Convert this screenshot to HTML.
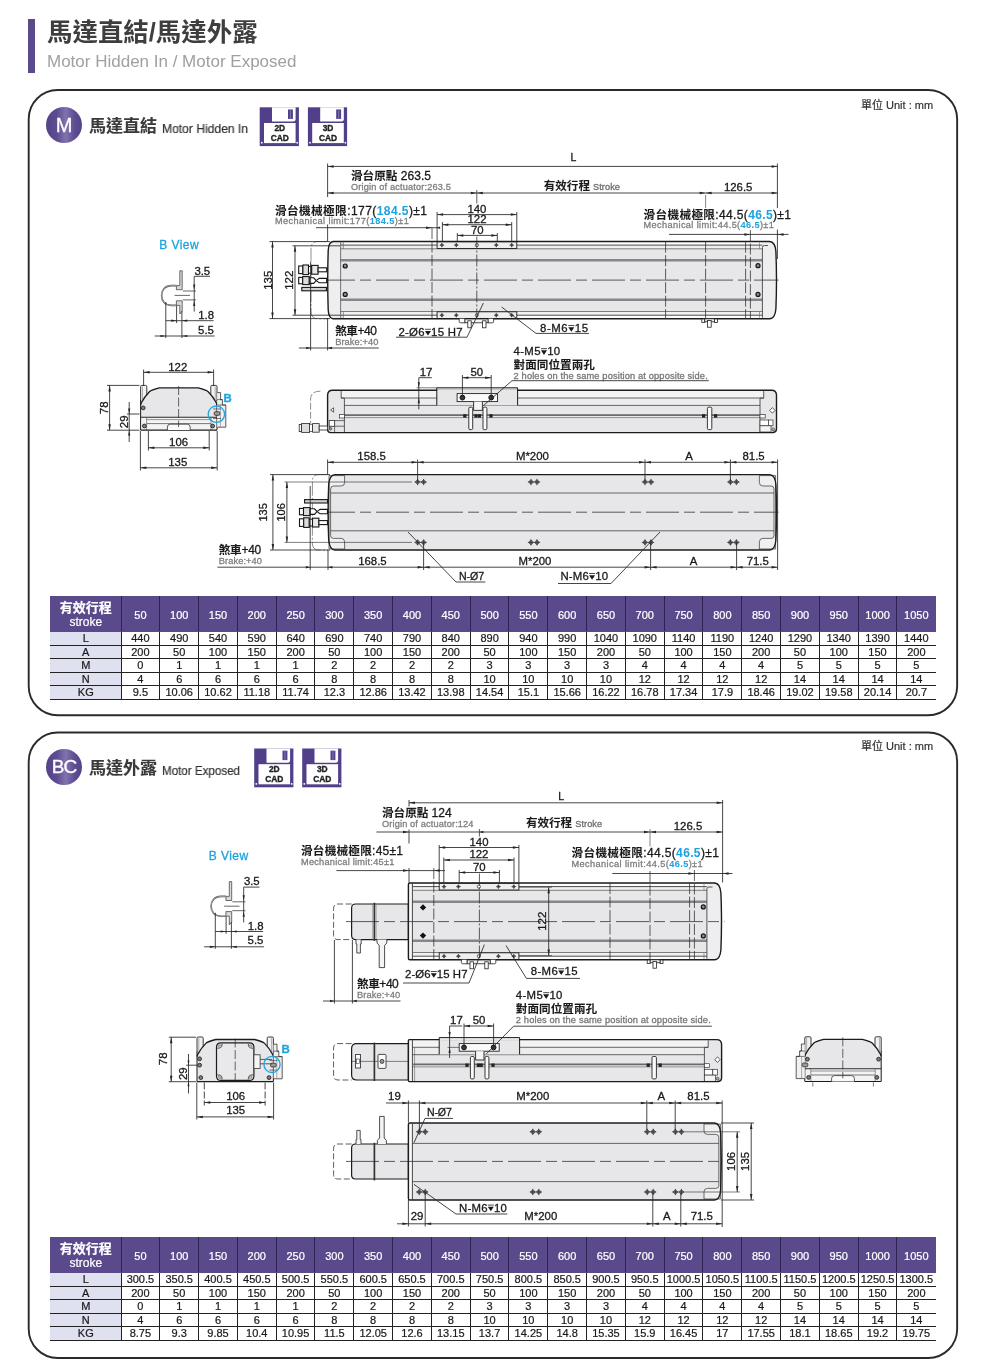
<!DOCTYPE html><html lang="zh-Hant"><head><meta charset="utf-8"><title>馬達直結/馬達外露</title><style>
*{margin:0;padding:0;box-sizing:border-box}
html,body{width:1000px;height:1371px;background:#fff;overflow:hidden}
body{position:relative;font-family:"Liberation Sans","Noto Sans CJK TC",sans-serif;color:#222}
.abs{position:absolute;white-space:nowrap;will-change:transform}
.bar{left:28px;top:19px;width:6.5px;height:54px;background:#5a4a8c}
.title{left:46.5px;top:13.6px;font-size:25.4px;font-weight:bold;color:#3e3e3e;line-height:36px;letter-spacing:0.05px}
.sub{left:46.5px;top:50.7px;font-size:17px;color:#a0a0a2;line-height:22px}
.panel{left:27.8px;width:930.4px;height:627.3px;border:1.9px solid #2c2c2c;border-radius:30px}
.circ{-webkit-text-stroke:0.3px #fff;width:36px;height:36px;border-radius:50%;background:linear-gradient(90deg,#54438a 0%,#5d4c90 30%,#8272ae 55%,#5d4c90 80%,#54438a 100%);color:#fff;text-align:center;line-height:36px;font-size:20px}
.ptc{-webkit-text-stroke:0.12px currentColor;font-size:17px;font-weight:bold;color:#3a3a3a;line-height:24px}
.pte{-webkit-text-stroke:0.2px currentColor;font-size:12.5px;color:#303030;line-height:18px;transform-origin:0 50%}
.unit{-webkit-text-stroke:0.2px currentColor;font-size:11px;color:#333;line-height:14px}
table.t{will-change:transform;position:absolute;border-collapse:collapse;table-layout:fixed;font-size:11px;color:#1a1a1a}
table.t td{-webkit-text-stroke:0.22px currentColor;border:1px solid #222;text-align:center;padding:0;height:13.5px;line-height:12px;white-space:nowrap;overflow:hidden}
table.t tr.h td{background:#5a4a8c;color:#fff;height:35px;border-color:#2b2350;border-top-color:#5a4a8c;border-bottom-color:#5a4a8c;font-size:11px;padding-top:1.5px}
table.t tr.h td.f{font-size:12px;line-height:14.5px;padding-top:2.5px;border-left-color:#5a4a8c}
table.t tr.h td.f b{font-size:13px;font-family:"Liberation Sans","Noto Sans CJK TC",sans-serif}
table.t td.l{background:#dfe1f1;border-left-color:#dfe1f1}
table.t td:last-child{border-right-color:transparent}
table.t tr.h td:last-child{border-right-color:#5a4a8c}
table.t tr:last-child td{border-bottom:1.4px solid #222}
svg{position:absolute;left:0;top:0;will-change:transform}
svg text{font-family:"Liberation Sans","Noto Sans CJK TC",sans-serif}
</style></head><body>
<div class="abs bar"></div>
<div class="abs title">馬達直結/馬達外露</div>
<div class="abs sub">Motor Hidden In / Motor Exposed</div>
<div class="abs circ" style="left:45.6px;top:107.4px">M</div>
<div class="abs ptc" style="left:88.5px;top:115.3px">馬達直結</div>
<div class="abs pte" style="left:162.2px;top:120.2px;transform:scaleX(0.967)">Motor Hidden In</div>
<div class="abs unit" style="left:860.5px;top:97.9px">單位 Unit : mm</div>
<div class="abs circ" style="left:45.6px;top:748.9px;font-size:19px;letter-spacing:-1px">BC</div>
<div class="abs ptc" style="left:88.5px;top:756.8px">馬達外露</div>
<div class="abs pte" style="left:162.2px;top:761.7px;transform:scaleX(0.928)">Motor Exposed</div>
<div class="abs unit" style="left:860.5px;top:739.4px">單位 Unit : mm</div>
<table class="t" style="left:50px;top:596px;width:885.5px"><colgroup><col style="width:70.5px"><col style="width:38.8px"><col style="width:38.8px"><col style="width:38.8px"><col style="width:38.8px"><col style="width:38.8px"><col style="width:38.8px"><col style="width:38.8px"><col style="width:38.8px"><col style="width:38.8px"><col style="width:38.8px"><col style="width:38.8px"><col style="width:38.8px"><col style="width:38.8px"><col style="width:38.8px"><col style="width:38.8px"><col style="width:38.8px"><col style="width:38.8px"><col style="width:38.8px"><col style="width:38.8px"><col style="width:38.8px"><col style="width:38.8px"></colgroup><tr class="h"><td class="f"><b>有效行程</b><br>stroke</td><td>50</td><td>100</td><td>150</td><td>200</td><td>250</td><td>300</td><td>350</td><td>400</td><td>450</td><td>500</td><td>550</td><td>600</td><td>650</td><td>700</td><td>750</td><td>800</td><td>850</td><td>900</td><td>950</td><td>1000</td><td>1050</td></tr><tr><td class="l">L</td><td>440</td><td>490</td><td>540</td><td>590</td><td>640</td><td>690</td><td>740</td><td>790</td><td>840</td><td>890</td><td>940</td><td>990</td><td>1040</td><td>1090</td><td>1140</td><td>1190</td><td>1240</td><td>1290</td><td>1340</td><td>1390</td><td>1440</td></tr><tr><td class="l">A</td><td>200</td><td>50</td><td>100</td><td>150</td><td>200</td><td>50</td><td>100</td><td>150</td><td>200</td><td>50</td><td>100</td><td>150</td><td>200</td><td>50</td><td>100</td><td>150</td><td>200</td><td>50</td><td>100</td><td>150</td><td>200</td></tr><tr><td class="l">M</td><td>0</td><td>1</td><td>1</td><td>1</td><td>1</td><td>2</td><td>2</td><td>2</td><td>2</td><td>3</td><td>3</td><td>3</td><td>3</td><td>4</td><td>4</td><td>4</td><td>4</td><td>5</td><td>5</td><td>5</td><td>5</td></tr><tr><td class="l">N</td><td>4</td><td>6</td><td>6</td><td>6</td><td>6</td><td>8</td><td>8</td><td>8</td><td>8</td><td>10</td><td>10</td><td>10</td><td>10</td><td>12</td><td>12</td><td>12</td><td>12</td><td>14</td><td>14</td><td>14</td><td>14</td></tr><tr><td class="l">KG</td><td>9.5</td><td>10.06</td><td>10.62</td><td>11.18</td><td>11.74</td><td>12.3</td><td>12.86</td><td>13.42</td><td>13.98</td><td>14.54</td><td>15.1</td><td>15.66</td><td>16.22</td><td>16.78</td><td>17.34</td><td>17.9</td><td>18.46</td><td>19.02</td><td>19.58</td><td>20.14</td><td>20.7</td></tr></table>
<table class="t" style="left:50px;top:1237px;width:885.5px"><colgroup><col style="width:70.5px"><col style="width:38.8px"><col style="width:38.8px"><col style="width:38.8px"><col style="width:38.8px"><col style="width:38.8px"><col style="width:38.8px"><col style="width:38.8px"><col style="width:38.8px"><col style="width:38.8px"><col style="width:38.8px"><col style="width:38.8px"><col style="width:38.8px"><col style="width:38.8px"><col style="width:38.8px"><col style="width:38.8px"><col style="width:38.8px"><col style="width:38.8px"><col style="width:38.8px"><col style="width:38.8px"><col style="width:38.8px"><col style="width:38.8px"></colgroup><tr class="h"><td class="f"><b>有效行程</b><br>stroke</td><td>50</td><td>100</td><td>150</td><td>200</td><td>250</td><td>300</td><td>350</td><td>400</td><td>450</td><td>500</td><td>550</td><td>600</td><td>650</td><td>700</td><td>750</td><td>800</td><td>850</td><td>900</td><td>950</td><td>1000</td><td>1050</td></tr><tr><td class="l">L</td><td>300.5</td><td>350.5</td><td>400.5</td><td>450.5</td><td>500.5</td><td>550.5</td><td>600.5</td><td>650.5</td><td>700.5</td><td>750.5</td><td>800.5</td><td>850.5</td><td>900.5</td><td>950.5</td><td>1000.5</td><td>1050.5</td><td>1100.5</td><td>1150.5</td><td>1200.5</td><td>1250.5</td><td>1300.5</td></tr><tr><td class="l">A</td><td>200</td><td>50</td><td>100</td><td>150</td><td>200</td><td>50</td><td>100</td><td>150</td><td>200</td><td>50</td><td>100</td><td>150</td><td>200</td><td>50</td><td>100</td><td>150</td><td>200</td><td>50</td><td>100</td><td>150</td><td>200</td></tr><tr><td class="l">M</td><td>0</td><td>1</td><td>1</td><td>1</td><td>1</td><td>2</td><td>2</td><td>2</td><td>2</td><td>3</td><td>3</td><td>3</td><td>3</td><td>4</td><td>4</td><td>4</td><td>4</td><td>5</td><td>5</td><td>5</td><td>5</td></tr><tr><td class="l">N</td><td>4</td><td>6</td><td>6</td><td>6</td><td>6</td><td>8</td><td>8</td><td>8</td><td>8</td><td>10</td><td>10</td><td>10</td><td>10</td><td>12</td><td>12</td><td>12</td><td>12</td><td>14</td><td>14</td><td>14</td><td>14</td></tr><tr><td class="l">KG</td><td>8.75</td><td>9.3</td><td>9.85</td><td>10.4</td><td>10.95</td><td>11.5</td><td>12.05</td><td>12.6</td><td>13.15</td><td>13.7</td><td>14.25</td><td>14.8</td><td>15.35</td><td>15.9</td><td>16.45</td><td>17</td><td>17.55</td><td>18.1</td><td>18.65</td><td>19.2</td><td>19.75</td></tr></table>
<svg width="1000" height="1371" viewBox="0 0 1000 1371">
<rect x="28.7" y="90.05" width="928.45" height="625.2" rx="29" fill="none" stroke="#2a2a2a" stroke-width="1.9"/>
<rect x="28.7" y="732.5" width="928.45" height="625.5" rx="29" fill="none" stroke="#2a2a2a" stroke-width="1.9"/>
<g transform="translate(259.7,107.3)"><rect x="0" y="0" width="39.2" height="38.8" fill="#513f8a"/><path d="M12.3 0 H35.9 V12 Q35.9 14.3 33.6 14.3 H12.3 Z" fill="#fff"/><rect x="28.3" y="2.2" width="4.9" height="9.4" fill="#513f8a"/><rect x="30.1" y="2.2" width="1.3" height="9.4" fill="#7a6bb0"/><rect x="4.3" y="15.7" width="31.6" height="20.1" fill="#fff"/><rect x="1.3" y="34.6" width="1.6" height="1.6" fill="#fff"/><rect x="36.7" y="34.6" width="1.6" height="1.6" fill="#fff"/><text x="20.1" y="23.8" font-size="8.4" font-weight="bold" text-anchor="middle" fill="#222" stroke="#222" stroke-width="0.35">2D</text><text x="20.1" y="33.8" font-size="8.4" font-weight="bold" text-anchor="middle" fill="#222" stroke="#222" stroke-width="0.35">CAD</text></g>
<g transform="translate(307.9,107.3)"><rect x="0" y="0" width="39.2" height="38.8" fill="#513f8a"/><path d="M12.3 0 H35.9 V12 Q35.9 14.3 33.6 14.3 H12.3 Z" fill="#fff"/><rect x="28.3" y="2.2" width="4.9" height="9.4" fill="#513f8a"/><rect x="30.1" y="2.2" width="1.3" height="9.4" fill="#7a6bb0"/><rect x="4.3" y="15.7" width="31.6" height="20.1" fill="#fff"/><rect x="1.3" y="34.6" width="1.6" height="1.6" fill="#fff"/><rect x="36.7" y="34.6" width="1.6" height="1.6" fill="#fff"/><text x="20.1" y="23.8" font-size="8.4" font-weight="bold" text-anchor="middle" fill="#222" stroke="#222" stroke-width="0.35">3D</text><text x="20.1" y="33.8" font-size="8.4" font-weight="bold" text-anchor="middle" fill="#222" stroke="#222" stroke-width="0.35">CAD</text></g>
<g transform="translate(254.2,748.5)"><rect x="0" y="0" width="39.2" height="38.8" fill="#513f8a"/><path d="M12.3 0 H35.9 V12 Q35.9 14.3 33.6 14.3 H12.3 Z" fill="#fff"/><rect x="28.3" y="2.2" width="4.9" height="9.4" fill="#513f8a"/><rect x="30.1" y="2.2" width="1.3" height="9.4" fill="#7a6bb0"/><rect x="4.3" y="15.7" width="31.6" height="20.1" fill="#fff"/><rect x="1.3" y="34.6" width="1.6" height="1.6" fill="#fff"/><rect x="36.7" y="34.6" width="1.6" height="1.6" fill="#fff"/><text x="20.1" y="23.8" font-size="8.4" font-weight="bold" text-anchor="middle" fill="#222" stroke="#222" stroke-width="0.35">2D</text><text x="20.1" y="33.8" font-size="8.4" font-weight="bold" text-anchor="middle" fill="#222" stroke="#222" stroke-width="0.35">CAD</text></g>
<g transform="translate(302.2,748.5)"><rect x="0" y="0" width="39.2" height="38.8" fill="#513f8a"/><path d="M12.3 0 H35.9 V12 Q35.9 14.3 33.6 14.3 H12.3 Z" fill="#fff"/><rect x="28.3" y="2.2" width="4.9" height="9.4" fill="#513f8a"/><rect x="30.1" y="2.2" width="1.3" height="9.4" fill="#7a6bb0"/><rect x="4.3" y="15.7" width="31.6" height="20.1" fill="#fff"/><rect x="1.3" y="34.6" width="1.6" height="1.6" fill="#fff"/><rect x="36.7" y="34.6" width="1.6" height="1.6" fill="#fff"/><text x="20.1" y="23.8" font-size="8.4" font-weight="bold" text-anchor="middle" fill="#222" stroke="#222" stroke-width="0.35">3D</text><text x="20.1" y="33.8" font-size="8.4" font-weight="bold" text-anchor="middle" fill="#222" stroke="#222" stroke-width="0.35">CAD</text></g>
<path d="M327.6 241.5 H318 Q311 241.5 311 249 V311 Q311 318.8 318 318.8 H327.6" fill="none" stroke="#444" stroke-width="0.6" stroke-dasharray="14 2 2 2"/>
<path d="M333.1 241.5 H769.6 Q775.2 241.9 775.9 251.5 Q777.1 280.1 775.9 308.8 Q775.2 318.40000000000003 769.6 318.8 H333.1 Q328.6 318.3 328.20000000000005 309.8 Q327.20000000000005 280.1 328.20000000000005 250.5 Q328.6 242.0 333.1 241.5 Z" fill="#e7e7e9"/>
<clipPath id="c1"><rect x="762.4" y="239.5" width="17.200000000000045" height="81.30000000000001"/><rect x="324.6" y="239.5" width="16.0" height="81.30000000000001"/></clipPath>
<path d="M333.1 241.5 H769.6 Q775.2 241.9 775.9 251.5 Q777.1 280.1 775.9 308.8 Q775.2 318.40000000000003 769.6 318.8 H333.1 Q328.6 318.3 328.20000000000005 309.8 Q327.20000000000005 280.1 328.20000000000005 250.5 Q328.6 242.0 333.1 241.5 Z" fill="#eeeef0" clip-path="url(#c1)"/>
<rect x="343.40" y="242.10" width="419.00" height="3.00" fill="#fdfdfd"/>
<rect x="343.40" y="315.20" width="419.00" height="3.00" fill="#fdfdfd"/>
<rect x="343.40" y="245.30" width="419.00" height="3.40" fill="#f1f1f2"/>
<rect x="343.40" y="311.60" width="419.00" height="3.40" fill="#f1f1f2"/>
<line x1="340.60" y1="245.10" x2="762.40" y2="245.10" stroke="#3a3a3a" stroke-width="0.9"/>
<line x1="340.60" y1="248.80" x2="762.40" y2="248.80" stroke="#707072" stroke-width="0.9"/>
<line x1="340.60" y1="315.20" x2="762.40" y2="315.20" stroke="#3a3a3a" stroke-width="0.9"/>
<line x1="340.60" y1="311.50" x2="762.40" y2="311.50" stroke="#707072" stroke-width="0.9"/>
<line x1="340.60" y1="260.30" x2="762.40" y2="260.30" stroke="#858688" stroke-width="2.6"/>
<line x1="340.60" y1="299.80" x2="762.40" y2="299.80" stroke="#858688" stroke-width="2.6"/>
<line x1="340.60" y1="242.50" x2="340.60" y2="317.80" stroke="#555" stroke-width="0.8"/>
<line x1="343.40" y1="242.50" x2="343.40" y2="248.80" stroke="#666" stroke-width="0.6"/>
<line x1="343.40" y1="311.50" x2="343.40" y2="317.80" stroke="#666" stroke-width="0.6"/>
<path d="M762.4 317.8 V247.5 Q762.4 245.5 764.4 245.5 H768.0" fill="none" stroke="#444" stroke-width="0.9"/>
<line x1="759.50" y1="242.50" x2="759.50" y2="248.80" stroke="#666" stroke-width="0.6"/>
<line x1="759.50" y1="311.50" x2="759.50" y2="317.80" stroke="#666" stroke-width="0.6"/>
<rect x="437.10" y="241.70" width="79.70" height="6.80" fill="#efeff0" stroke="#1c1c1c" stroke-width="0.9"/>
<rect x="437.10" y="311.80" width="79.70" height="6.80" fill="#efeff0" stroke="#1c1c1c" stroke-width="0.9"/>
<path d="M440.20 245.10 L441.90 243.40 L443.60 245.10 L441.90 246.80 Z" fill="#6e6e70" stroke="#333" stroke-width="0.5"/>
<line x1="439.60" y1="245.10" x2="444.20" y2="245.10" stroke="#222" stroke-width="0.5"/>
<line x1="441.90" y1="242.80" x2="441.90" y2="247.40" stroke="#222" stroke-width="0.5"/>
<path d="M440.20 315.20 L441.90 313.50 L443.60 315.20 L441.90 316.90 Z" fill="#6e6e70" stroke="#333" stroke-width="0.5"/>
<line x1="439.60" y1="315.20" x2="444.20" y2="315.20" stroke="#222" stroke-width="0.5"/>
<line x1="441.90" y1="312.90" x2="441.90" y2="317.50" stroke="#222" stroke-width="0.5"/>
<path d="M454.60 245.10 L456.30 243.40 L458.00 245.10 L456.30 246.80 Z" fill="#6e6e70" stroke="#333" stroke-width="0.5"/>
<line x1="454.00" y1="245.10" x2="458.60" y2="245.10" stroke="#222" stroke-width="0.5"/>
<line x1="456.30" y1="242.80" x2="456.30" y2="247.40" stroke="#222" stroke-width="0.5"/>
<path d="M454.60 315.20 L456.30 313.50 L458.00 315.20 L456.30 316.90 Z" fill="#6e6e70" stroke="#333" stroke-width="0.5"/>
<line x1="454.00" y1="315.20" x2="458.60" y2="315.20" stroke="#222" stroke-width="0.5"/>
<line x1="456.30" y1="312.90" x2="456.30" y2="317.50" stroke="#222" stroke-width="0.5"/>
<path d="M494.60 245.10 L496.30 243.40 L498.00 245.10 L496.30 246.80 Z" fill="#6e6e70" stroke="#333" stroke-width="0.5"/>
<line x1="494.00" y1="245.10" x2="498.60" y2="245.10" stroke="#222" stroke-width="0.5"/>
<line x1="496.30" y1="242.80" x2="496.30" y2="247.40" stroke="#222" stroke-width="0.5"/>
<path d="M494.60 315.20 L496.30 313.50 L498.00 315.20 L496.30 316.90 Z" fill="#6e6e70" stroke="#333" stroke-width="0.5"/>
<line x1="494.00" y1="315.20" x2="498.60" y2="315.20" stroke="#222" stroke-width="0.5"/>
<line x1="496.30" y1="312.90" x2="496.30" y2="317.50" stroke="#222" stroke-width="0.5"/>
<path d="M510.00 245.10 L511.70 243.40 L513.40 245.10 L511.70 246.80 Z" fill="#6e6e70" stroke="#333" stroke-width="0.5"/>
<line x1="509.40" y1="245.10" x2="514.00" y2="245.10" stroke="#222" stroke-width="0.5"/>
<line x1="511.70" y1="242.80" x2="511.70" y2="247.40" stroke="#222" stroke-width="0.5"/>
<path d="M510.00 315.20 L511.70 313.50 L513.40 315.20 L511.70 316.90 Z" fill="#6e6e70" stroke="#333" stroke-width="0.5"/>
<line x1="509.40" y1="315.20" x2="514.00" y2="315.20" stroke="#222" stroke-width="0.5"/>
<line x1="511.70" y1="312.90" x2="511.70" y2="317.50" stroke="#222" stroke-width="0.5"/>
<circle cx="476.79" cy="245.10" r="1.6" fill="#fff" stroke="#222" stroke-width="0.7"/>
<circle cx="476.79" cy="315.20" r="1.6" fill="#fff" stroke="#222" stroke-width="0.7"/>
<path d="M333.1 241.5 H769.6 Q775.2 241.9 775.9 251.5 Q777.1 280.1 775.9 308.8 Q775.2 318.40000000000003 769.6 318.8 H333.1 Q328.6 318.3 328.20000000000005 309.8 Q327.20000000000005 280.1 328.20000000000005 250.5 Q328.6 242.0 333.1 241.5 Z" fill="none" stroke="#1c1c1c" stroke-width="1.4"/>
<circle cx="345.20" cy="266.00" r="2.0" fill="#8a8a8c" stroke="#161616" stroke-width="1.2"/>
<circle cx="345.20" cy="294.40" r="2.0" fill="#8a8a8c" stroke="#161616" stroke-width="1.2"/>
<circle cx="758.00" cy="265.70" r="2.0" fill="#8a8a8c" stroke="#161616" stroke-width="1.2"/>
<circle cx="758.00" cy="294.40" r="2.0" fill="#8a8a8c" stroke="#161616" stroke-width="1.2"/>
<line x1="705.60" y1="195.00" x2="705.60" y2="208.00" stroke="#333" stroke-width="0.6"/>
<line x1="432.00" y1="228.00" x2="432.00" y2="318.50" stroke="#2a2a2a" stroke-width="0.75" stroke-dasharray="11 2.5"/>
<line x1="665.60" y1="241.70" x2="665.60" y2="318.50" stroke="#2a2a2a" stroke-width="0.75" stroke-dasharray="11 2.5"/>
<line x1="705.60" y1="241.70" x2="705.60" y2="318.50" stroke="#2a2a2a" stroke-width="0.75" stroke-dasharray="11 2.5"/>
<line x1="745.60" y1="241.70" x2="745.60" y2="318.50" stroke="#2a2a2a" stroke-width="0.75" stroke-dasharray="11 2.5"/>
<line x1="750.40" y1="230.00" x2="750.40" y2="318.50" stroke="#2a2a2a" stroke-width="0.75" stroke-dasharray="11 2.5"/>
<line x1="476.80" y1="190.00" x2="476.80" y2="203.50" stroke="#2a2a2a" stroke-width="0.75"/>
<line x1="476.80" y1="236.50" x2="476.80" y2="318.50" stroke="#2a2a2a" stroke-width="0.75" stroke-dasharray="12 2 2 2"/>
<line x1="322.00" y1="280.10" x2="778.50" y2="280.10" stroke="#2a2a2a" stroke-width="0.75" stroke-dasharray="33 5 11 5"/>
<path d="M459.2 318.8 V321.6 Q459.2 322.8 460.59999999999997 322.8 H465.0 V318.8" fill="#fff" stroke="#222" stroke-width="0.8"/>
<path d="M488.0 318.8 V322.8 H492.4 Q493.59999999999997 322.8 493.59999999999997 321.6 V318.8" fill="#fff" stroke="#222" stroke-width="0.8"/>
<rect x="465.00" y="319.00" width="23.00" height="3.80" fill="#f4f4f4" stroke="#222" stroke-width="0.8"/>
<rect x="467.80" y="320.80" width="3.40" height="7.00" fill="#fff" stroke="#222" stroke-width="0.8"/>
<rect x="482.60" y="320.80" width="3.40" height="7.00" fill="#fff" stroke="#222" stroke-width="0.8"/>
<rect x="701.80" y="319.00" width="3.00" height="3.40" fill="#fff" stroke="#222" stroke-width="0.8"/>
<rect x="714.60" y="319.00" width="3.00" height="3.40" fill="#fff" stroke="#222" stroke-width="0.8"/>
<rect x="704.80" y="318.80" width="9.80" height="3.00" fill="#eee" stroke="#222" stroke-width="0.8"/>
<rect x="707.60" y="320.40" width="3.60" height="6.80" fill="#fff" stroke="#222" stroke-width="0.8"/>
<rect x="298.70" y="266.00" width="4.20" height="7.60" fill="#fff" stroke="#161616" stroke-width="1.1"/>
<rect x="302.90" y="265.00" width="5.60" height="9.60" fill="#ddd" stroke="#161616" stroke-width="1.1"/>
<rect x="308.50" y="266.40" width="3.20" height="6.80" fill="#fff" stroke="#161616" stroke-width="1.0"/>
<rect x="311.70" y="265.40" width="6.40" height="8.80" fill="#e8e8e8" stroke="#161616" stroke-width="1.1"/>
<rect x="318.10" y="267.80" width="8.60" height="4.00" fill="#fff" stroke="#161616" stroke-width="1.1"/>
<rect x="298.70" y="277.40" width="4.00" height="6.40" fill="#fff" stroke="#161616" stroke-width="1.1"/>
<rect x="302.70" y="276.60" width="6.60" height="8.00" fill="#ddd" stroke="#161616" stroke-width="1.1"/>
<path d="M309.3 277.8 H313.7 L316.2 280.6 L313.7 283.40000000000003 H309.3 Z" fill="#fff" stroke="#161616" stroke-width="1.1"/>
<path d="M316.2 280.6 L319.2 278.40000000000003 H326.7 V282.8 H319.2 Z" fill="#fff" stroke="#161616" stroke-width="1.1"/>
<rect x="301.80" y="287.40" width="24.60" height="3.40" fill="#cfcfcf" stroke="#161616" stroke-width="1.1"/>
<line x1="327.60" y1="163.50" x2="327.60" y2="197.00" stroke="#262626" stroke-width="0.85"/>
<line x1="327.60" y1="224.50" x2="327.60" y2="241.00" stroke="#262626" stroke-width="0.85"/>
<line x1="777.40" y1="163.50" x2="777.40" y2="208.00" stroke="#262626" stroke-width="0.85"/>
<line x1="777.40" y1="229.50" x2="777.40" y2="259.00" stroke="#262626" stroke-width="0.85"/>
<line x1="327.60" y1="166.40" x2="777.60" y2="166.40" stroke="#262626" stroke-width="0.85"/>
<polygon points="327.60,166.40 333.60,165.15 333.60,167.65" fill="#262626"/>
<polygon points="777.60,166.40 771.60,165.15 771.60,167.65" fill="#262626"/>
<text x="573.50" y="161.20" font-size="10.5" text-anchor="middle" fill="#1a1a1a" stroke="#1a1a1a" stroke-width="0.3">L</text>
<line x1="327.60" y1="193.00" x2="777.60" y2="193.00" stroke="#262626" stroke-width="0.85"/>
<polygon points="327.60,193.00 333.60,191.75 333.60,194.25" fill="#262626"/>
<polygon points="476.80,193.00 470.80,191.75 470.80,194.25" fill="#262626"/>
<polygon points="476.80,193.00 482.80,191.75 482.80,194.25" fill="#262626"/>
<polygon points="705.60,193.00 699.60,191.75 699.60,194.25" fill="#262626"/>
<polygon points="705.60,193.00 711.60,191.75 711.60,194.25" fill="#262626"/>
<polygon points="777.60,193.00 771.60,191.75 771.60,194.25" fill="#262626"/>
<text x="351.00" y="180.20" font-size="12" fill="#1a1a1a" stroke="#1a1a1a" stroke-width="0.3" letter-spacing="0.026"><tspan font-size="11.6" font-weight="bold" stroke-width="0.05">滑台原點</tspan><tspan font-size="12"> 263.5</tspan></text>
<text x="351.00" y="190.00" font-size="9.2" fill="#7e7e80" stroke="#7e7e80" stroke-width="0.3" letter-spacing="0.168"><tspan font-size="9.2">Origin of actuator:263.5</tspan></text>
<text x="543.80" y="190.40" font-size="11.6" fill="#1a1a1a" stroke="#1a1a1a" stroke-width="0.3" letter-spacing="-0.067"><tspan font-size="11.6" font-weight="bold" stroke-width="0.05">有效行程</tspan></text>
<text x="593.00" y="190.20" font-size="9.2" fill="#6e6e70" stroke="#6e6e70" stroke-width="0.3" letter-spacing="0.082"><tspan font-size="9.2">Stroke</tspan></text>
<text x="738.20" y="190.60" font-size="11.4" text-anchor="middle" fill="#1a1a1a" stroke="#1a1a1a" stroke-width="0.3">126.5</text>
<text x="275.00" y="214.60" font-size="12" fill="#1a1a1a" stroke="#1a1a1a" stroke-width="0.3" letter-spacing="0.431"><tspan font-size="11.6" font-weight="bold" stroke-width="0.05">滑台機械極限</tspan><tspan font-size="12">:177</tspan><tspan font-size="12">(</tspan><tspan font-size="12" font-weight="bold" stroke-width="0.05" fill="#1ea3df" stroke="#1ea3df">184.5</tspan><tspan font-size="12">)&#177;1</tspan></text>
<text x="275.00" y="224.20" font-size="9.2" fill="#7e7e80" stroke="#7e7e80" stroke-width="0.3" letter-spacing="0.405"><tspan font-size="9.2">Mechanical limit:177</tspan><tspan font-size="9.2">(</tspan><tspan font-size="9.2" font-weight="bold" stroke-width="0.05" fill="#1ea3df" stroke="#1ea3df">184.5</tspan><tspan font-size="9.2">)&#177;1</tspan></text>
<line x1="316.00" y1="227.70" x2="439.50" y2="227.70" stroke="#262626" stroke-width="0.85"/>
<polygon points="432.00,227.70 426.00,226.45 426.00,228.95" fill="#262626"/>
<polygon points="437.10,227.70 440.10,226.45 440.10,228.95" fill="#262626"/>
<text x="643.60" y="218.80" font-size="12" fill="#1a1a1a" stroke="#1a1a1a" stroke-width="0.3" letter-spacing="0.361"><tspan font-size="11.6" font-weight="bold" stroke-width="0.05">滑台機械極限</tspan><tspan font-size="12">:44.5</tspan><tspan font-size="12">(</tspan><tspan font-size="12" font-weight="bold" stroke-width="0.05" fill="#1ea3df" stroke="#1ea3df">46.5</tspan><tspan font-size="12">)&#177;1</tspan></text>
<text x="643.60" y="228.40" font-size="9.2" fill="#7e7e80" stroke="#7e7e80" stroke-width="0.3" letter-spacing="0.368"><tspan font-size="9.2">Mechanical limit:44.5</tspan><tspan font-size="9.2">(</tspan><tspan font-size="9.2" font-weight="bold" stroke-width="0.05" fill="#1ea3df" stroke="#1ea3df">46.5</tspan><tspan font-size="9.2">)&#177;1</tspan></text>
<line x1="669.00" y1="234.40" x2="788.50" y2="234.40" stroke="#262626" stroke-width="0.85"/>
<polygon points="750.40,234.40 744.40,233.15 744.40,235.65" fill="#262626"/>
<polygon points="777.60,234.40 783.60,233.15 783.60,235.65" fill="#262626"/>
<line x1="437.10" y1="212.00" x2="437.10" y2="241.50" stroke="#262626" stroke-width="0.85"/>
<line x1="516.80" y1="212.00" x2="516.80" y2="241.50" stroke="#262626" stroke-width="0.85"/>
<line x1="437.10" y1="214.60" x2="516.80" y2="214.60" stroke="#262626" stroke-width="0.85"/>
<polygon points="437.10,214.60 443.10,213.35 443.10,215.85" fill="#262626"/>
<polygon points="516.80,214.60 510.80,213.35 510.80,215.85" fill="#262626"/>
<text x="476.95" y="213.20" font-size="11.4" text-anchor="middle" fill="#1a1a1a" stroke="#1a1a1a" stroke-width="0.3">140</text>
<line x1="442.40" y1="222.00" x2="442.40" y2="241.50" stroke="#262626" stroke-width="0.85"/>
<line x1="511.70" y1="222.00" x2="511.70" y2="241.50" stroke="#262626" stroke-width="0.85"/>
<line x1="442.40" y1="224.70" x2="511.70" y2="224.70" stroke="#262626" stroke-width="0.85"/>
<polygon points="442.40,224.70 448.40,223.45 448.40,225.95" fill="#262626"/>
<polygon points="511.70,224.70 505.70,223.45 505.70,225.95" fill="#262626"/>
<text x="477.05" y="223.40" font-size="11.4" text-anchor="middle" fill="#1a1a1a" stroke="#1a1a1a" stroke-width="0.3">122</text>
<line x1="457.30" y1="233.00" x2="457.30" y2="241.50" stroke="#262626" stroke-width="0.85"/>
<line x1="497.30" y1="233.00" x2="497.30" y2="241.50" stroke="#262626" stroke-width="0.85"/>
<line x1="457.30" y1="235.40" x2="497.30" y2="235.40" stroke="#262626" stroke-width="0.85"/>
<polygon points="457.30,235.40 463.30,234.15 463.30,236.65" fill="#262626"/>
<polygon points="497.30,235.40 491.30,234.15 491.30,236.65" fill="#262626"/>
<text x="477.30" y="234.00" font-size="11.4" text-anchor="middle" fill="#1a1a1a" stroke="#1a1a1a" stroke-width="0.3">70</text>
<line x1="269.50" y1="241.60" x2="330.00" y2="241.60" stroke="#262626" stroke-width="0.85"/>
<line x1="269.50" y1="318.60" x2="330.00" y2="318.60" stroke="#262626" stroke-width="0.85"/>
<line x1="272.50" y1="241.60" x2="272.50" y2="318.60" stroke="#262626" stroke-width="0.85"/>
<polygon points="272.50,241.60 271.25,247.60 273.75,247.60" fill="#262626"/>
<polygon points="272.50,318.60 271.25,312.60 273.75,312.60" fill="#262626"/>
<text x="271.60" y="280.20" font-size="11.4" text-anchor="middle" fill="#1a1a1a" stroke="#1a1a1a" stroke-width="0.3" transform="rotate(-90 271.60 280.20)">135</text>
<line x1="292.50" y1="245.80" x2="340.00" y2="245.80" stroke="#262626" stroke-width="0.85"/>
<line x1="292.50" y1="315.20" x2="340.00" y2="315.20" stroke="#262626" stroke-width="0.85"/>
<line x1="295.00" y1="245.80" x2="295.00" y2="315.20" stroke="#262626" stroke-width="0.85"/>
<polygon points="295.00,245.80 293.75,251.80 296.25,251.80" fill="#262626"/>
<polygon points="295.00,315.20 293.75,309.20 296.25,309.20" fill="#262626"/>
<text x="293.20" y="280.20" font-size="11.4" text-anchor="middle" fill="#1a1a1a" stroke="#1a1a1a" stroke-width="0.3" transform="rotate(-90 293.20 280.20)">122</text>
<line x1="310.60" y1="262.00" x2="310.60" y2="350.50" stroke="#262626" stroke-width="0.85"/>
<line x1="327.60" y1="318.00" x2="327.60" y2="350.50" stroke="#262626" stroke-width="0.85"/>
<line x1="298.80" y1="348.00" x2="378.80" y2="348.00" stroke="#262626" stroke-width="0.85"/>
<polygon points="310.60,348.00 306.20,346.75 306.20,349.25" fill="#262626"/>
<polygon points="327.60,348.00 332.00,346.75 332.00,349.25" fill="#262626"/>
<text x="335.20" y="335.20" font-size="12" fill="#1a1a1a" stroke="#1a1a1a" stroke-width="0.3" letter-spacing="-0.439"><tspan font-size="11.6" font-weight="bold" stroke-width="0.05">煞車</tspan><tspan font-size="12">+40</tspan></text>
<text x="335.20" y="344.80" font-size="9.3" fill="#7e7e80" stroke="#7e7e80" stroke-width="0.3" letter-spacing="0.068"><tspan font-size="9.3">Brake:+40</tspan></text>
<text x="398.50" y="335.80" font-size="11.4" fill="#1a1a1a" stroke="#1a1a1a" stroke-width="0.3" letter-spacing="0.248">2-&#216;6</text>
<line x1="424.94" y1="329.27" x2="430.95" y2="329.27" stroke="#1a1a1a" stroke-width="0.8"/>
<path d="M424.94 330.93 L430.95 330.93 L427.95 335.49 Z" fill="#1a1a1a"/>
<text x="431.09" y="335.80" font-size="11.4" fill="#1a1a1a" stroke="#1a1a1a" stroke-width="0.3" letter-spacing="0.248">15 H7</text>
<path d="M396 337.2 H467 L483.4 303" fill="none" stroke="#262626" stroke-width="0.85"/>
<text x="540.00" y="332.00" font-size="11.4" fill="#1a1a1a" stroke="#1a1a1a" stroke-width="0.3" letter-spacing="0.558">8-M6</text>
<line x1="568.30" y1="325.47" x2="574.32" y2="325.47" stroke="#1a1a1a" stroke-width="0.8"/>
<path d="M568.31 327.13 L574.32 327.13 L571.31 331.69 Z" fill="#1a1a1a"/>
<text x="574.76" y="332.00" font-size="11.4" fill="#1a1a1a" stroke="#1a1a1a" stroke-width="0.3" letter-spacing="0.558">15</text>
<path d="M501.6 307 L536 333.4 H589" fill="none" stroke="#262626" stroke-width="0.85"/>
<path d="M332.6 390.3 H771.5 Q776.5 390.3 776.5 395.3 V428.6 Q776.5 432.6 772.5 432.6 H330.6 Q327.6 432.6 327.6 429.6 V395.3 Q327.6 390.3 332.6 390.3 Z" fill="#e7e7e9"/>
<rect x="341.20" y="391.10" width="422.50" height="6.80" fill="#f3f3f4"/>
<rect x="344.40" y="398.50" width="415.60" height="6.60" fill="#ededee"/>
<path d="M341.2 391.1 V398.1 H344.4 V432.0" fill="none" stroke="#333" stroke-width="0.8"/>
<path d="M763.7 391.1 V398.1 H760.0 V432.0" fill="none" stroke="#333" stroke-width="0.8"/>
<line x1="341.20" y1="398.00" x2="763.70" y2="398.00" stroke="#444" stroke-width="0.8"/>
<line x1="344.40" y1="405.40" x2="760.00" y2="405.40" stroke="#444" stroke-width="0.8"/>
<line x1="344.40" y1="415.10" x2="760.00" y2="415.10" stroke="#6a6a6c" stroke-width="1.6"/>
<line x1="344.40" y1="417.60" x2="760.00" y2="417.60" stroke="#555" stroke-width="0.6"/>
<path d="M769.6 410.40000000000003 L772.4 407.6 L775.0 410.40000000000003 L772.4 413.2 Z" fill="#fff" stroke="#222" stroke-width="0.7"/>
<rect x="760.00" y="414.40" width="5.20" height="3.60" fill="#fff" stroke="#333" stroke-width="0.7"/>
<rect x="760.00" y="420.00" width="8.40" height="5.80" fill="#fff" stroke="#333" stroke-width="0.7"/>
<rect x="768.40" y="420.00" width="4.60" height="5.80" fill="#fff" stroke="#333" stroke-width="0.7"/>
<rect x="760.00" y="425.80" width="11.00" height="6.20" fill="#f4f4f4" stroke="#333" stroke-width="0.7"/>
<circle cx="773.20" cy="429.40" r="1.5" fill="#aaa" stroke="#333" stroke-width="0.6"/>
<rect x="436.80" y="387.80" width="80.80" height="17.60" fill="#e7e7e9"/>
<path d="M436.8 405.4 V387.8 H517.6 V405.4" fill="none" stroke="#1c1c1c" stroke-width="1.0"/>
<rect x="457.10" y="393.60" width="40.50" height="8.00" fill="#fafafa" stroke="#222" stroke-width="0.9"/>
<circle cx="462.40" cy="397.60" r="2.4" fill="#3a3a3a" stroke="#111" stroke-width="1.0"/>
<circle cx="491.20" cy="397.60" r="2.4" fill="#3a3a3a" stroke="#111" stroke-width="1.0"/>
<path d="M473.6 401.6 V410.40000000000003 H482.4 V401.6" fill="#f6f6f6" stroke="#222" stroke-width="0.9"/>
<rect x="468.80" y="407.20" width="3.90" height="22.40" fill="#fafafa" stroke="#222" stroke-width="0.9" rx="1.2"/>
<rect x="483.00" y="407.20" width="3.90" height="22.40" fill="#fafafa" stroke="#222" stroke-width="0.9" rx="1.2"/>
<rect x="463.20" y="414.20" width="3.20" height="3.40" fill="#222"/>
<rect x="474.40" y="414.20" width="3.20" height="3.40" fill="#222"/>
<rect x="477.80" y="414.20" width="3.20" height="3.40" fill="#222"/>
<rect x="489.40" y="414.20" width="3.20" height="3.40" fill="#222"/>
<rect x="707.40" y="407.20" width="4.40" height="22.40" fill="#fafafa" stroke="#222" stroke-width="0.9" rx="1.2"/>
<rect x="702.00" y="414.20" width="3.20" height="3.40" fill="#222"/>
<rect x="714.00" y="414.20" width="3.20" height="3.40" fill="#222"/>
<path d="M332.6 390.3 H771.5 Q776.5 390.3 776.5 395.3 V428.6 Q776.5 432.6 772.5 432.6 H330.6 Q327.6 432.6 327.6 429.6 V395.3 Q327.6 390.3 332.6 390.3 Z" fill="none" stroke="#1c1c1c" stroke-width="1.4"/>
<rect x="437.40" y="389.30" width="79.60" height="2.20" fill="#e7e7e9"/>
<path d="M330.6 410 L333.6 407.8 V412.2 Z" fill="#fff" stroke="#222" stroke-width="0.7"/>
<rect x="339.40" y="414.60" width="5.00" height="3.40" fill="#fff" stroke="#333" stroke-width="0.7"/>
<path d="M329 420.6 H344.4 M329 426.2 H344.4 M334.6 420.6 V432 M329.6 420.6 V430" fill="none" stroke="#333" stroke-width="0.7"/>
<rect x="329.20" y="420.60" width="5.20" height="5.60" fill="#fff" stroke="#333" stroke-width="0.7"/>
<path d="M320.4 391.2 Q310.6 391.2 310.6 399 V423.4" fill="none" stroke="#444" stroke-width="0.6" stroke-dasharray="7 2"/>
<rect x="299.20" y="424.40" width="2.40" height="7.20" fill="#fff" stroke="#2a2a2a" stroke-width="0.8"/>
<rect x="301.60" y="423.40" width="8.00" height="9.00" fill="#ddd" stroke="#2a2a2a" stroke-width="0.8"/>
<rect x="309.60" y="424.20" width="3.00" height="7.40" fill="#fff" stroke="#2a2a2a" stroke-width="0.7"/>
<rect x="312.60" y="423.60" width="6.60" height="8.60" fill="#e8e8e8" stroke="#2a2a2a" stroke-width="0.8"/>
<rect x="319.20" y="426.00" width="8.40" height="4.00" fill="#fff" stroke="#2a2a2a" stroke-width="0.8"/>
<circle cx="330.60" cy="428.80" r="1.3" fill="#999" stroke="#333" stroke-width="0.6"/>
<text x="426.00" y="376.00" font-size="11.4" text-anchor="middle" fill="#1a1a1a" stroke="#1a1a1a" stroke-width="0.3">17</text>
<line x1="418.80" y1="377.70" x2="431.80" y2="377.70" stroke="#262626" stroke-width="0.85"/>
<line x1="418.80" y1="377.70" x2="418.80" y2="409.40" stroke="#262626" stroke-width="0.85"/>
<polygon points="418.80,387.80 417.70,382.20 419.90,382.20" fill="#262626"/>
<polygon points="418.80,397.60 417.70,403.20 419.90,403.20" fill="#262626"/>
<line x1="416.50" y1="387.80" x2="437.00" y2="387.80" stroke="#262626" stroke-width="0.6"/>
<line x1="462.40" y1="375.00" x2="462.40" y2="397.00" stroke="#262626" stroke-width="0.85"/>
<line x1="491.20" y1="375.00" x2="491.20" y2="397.00" stroke="#262626" stroke-width="0.85"/>
<line x1="462.40" y1="377.70" x2="491.20" y2="377.70" stroke="#262626" stroke-width="0.85"/>
<polygon points="462.40,377.70 468.40,376.45 468.40,378.95" fill="#262626"/>
<polygon points="491.20,377.70 485.20,376.45 485.20,378.95" fill="#262626"/>
<text x="476.80" y="375.60" font-size="11.4" text-anchor="middle" fill="#1a1a1a" stroke="#1a1a1a" stroke-width="0.3">50</text>
<text x="513.60" y="355.20" font-size="11.4" fill="#1a1a1a" stroke="#1a1a1a" stroke-width="0.3" letter-spacing="0.324">4-M5</text>
<line x1="540.97" y1="348.67" x2="546.99" y2="348.67" stroke="#1a1a1a" stroke-width="0.8"/>
<path d="M540.97 350.33 L546.99 350.33 L543.98 354.89 Z" fill="#1a1a1a"/>
<text x="547.20" y="355.20" font-size="11.4" fill="#1a1a1a" stroke="#1a1a1a" stroke-width="0.3" letter-spacing="0.324">10</text>
<text x="513.60" y="369.10" font-size="11.6" fill="#1a1a1a" stroke="#1a1a1a" stroke-width="0.3" letter-spacing="0.033"><tspan font-size="11.6" font-weight="bold" stroke-width="0.05">對面同位置兩孔</tspan></text>
<text x="513.60" y="379.20" font-size="9.3" fill="#77777a" stroke="#77777a" stroke-width="0.3" letter-spacing="0.122"><tspan font-size="9.3">2 holes on the same position at opposite side.</tspan></text>
<path d="M708.8 380.7 H512 L483.2 405.8" fill="none" stroke="#262626" stroke-width="0.85"/>
<path d="M328.0 474.6 H319 Q312.4 474.6 312.4 481 V543.6 Q312.4 550.0 319 550.0 H328.0" fill="none" stroke="#444" stroke-width="0.6" stroke-dasharray="14 2 2 2"/>
<path d="M335.0 474.6 H769.6 Q775.2 475.0 775.9 484.6 Q777.1 512.2 775.9 540.0 Q775.2 549.6 769.6 550.0 H335.0 Q329.4 549.6 328.7 540.0 Q327.5 512.2 328.7 484.6 Q329.4 475.0 335.0 474.6 Z" fill="#e7e7e9"/>
<path d="M329.0 475.6 H344.6 V482.6 Q344.6 486.0 341.0 486.0 H333.6 Q330.6 486.0 330.6 489.0 V535.6 Q330.6 538.4 333.6 538.4 H341.0 Q344.6 538.4 344.6 541.8 V549.0 H329.0 Z" fill="#f0f0f1" stroke="#333" stroke-width="0.7"/>
<path d="M775.6 475.6 H759.4 V482.6 Q759.4 486.0 763.0 486.0 H771.0 Q774.0 486.0 774.0 489.0 V535.6 Q774.0 538.4 771.0 538.4 H763.0 Q759.4 538.4 759.4 541.8 V549.0 H775.6 Z" fill="#f0f0f1" stroke="#333" stroke-width="0.7"/>
<line x1="330.60" y1="493.00" x2="774.00" y2="493.00" stroke="#444" stroke-width="0.8"/>
<line x1="330.60" y1="530.80" x2="774.00" y2="530.80" stroke="#444" stroke-width="0.8"/>
<path d="M335.0 474.6 H769.6 Q775.2 475.0 775.9 484.6 Q777.1 512.2 775.9 540.0 Q775.2 549.6 769.6 550.0 H335.0 Q329.4 549.6 328.7 540.0 Q327.5 512.2 328.7 484.6 Q329.4 475.0 335.0 474.6 Z" fill="none" stroke="#1c1c1c" stroke-width="1.4"/>
<line x1="322.00" y1="512.20" x2="778.50" y2="512.20" stroke="#2a2a2a" stroke-width="0.75" stroke-dasharray="33 5 11 5"/>
<path d="M415.00 482.00 L417.60 479.40 L420.20 482.00 L417.60 484.60 Z" fill="#6e6e70" stroke="#333" stroke-width="0.5"/>
<line x1="414.40" y1="482.00" x2="420.80" y2="482.00" stroke="#222" stroke-width="0.5"/>
<line x1="417.60" y1="478.80" x2="417.60" y2="485.20" stroke="#222" stroke-width="0.5"/>
<path d="M421.00 482.00 L423.60 479.40 L426.20 482.00 L423.60 484.60 Z" fill="#6e6e70" stroke="#333" stroke-width="0.5"/>
<line x1="420.40" y1="482.00" x2="426.80" y2="482.00" stroke="#222" stroke-width="0.5"/>
<line x1="423.60" y1="478.80" x2="423.60" y2="485.20" stroke="#222" stroke-width="0.5"/>
<path d="M415.00 542.40 L417.60 539.80 L420.20 542.40 L417.60 545.00 Z" fill="#6e6e70" stroke="#333" stroke-width="0.5"/>
<line x1="414.40" y1="542.40" x2="420.80" y2="542.40" stroke="#222" stroke-width="0.5"/>
<line x1="417.60" y1="539.20" x2="417.60" y2="545.60" stroke="#222" stroke-width="0.5"/>
<path d="M421.00 542.40 L423.60 539.80 L426.20 542.40 L423.60 545.00 Z" fill="#6e6e70" stroke="#333" stroke-width="0.5"/>
<line x1="420.40" y1="542.40" x2="426.80" y2="542.40" stroke="#222" stroke-width="0.5"/>
<line x1="423.60" y1="539.20" x2="423.60" y2="545.60" stroke="#222" stroke-width="0.5"/>
<path d="M528.40 482.00 L531.00 479.40 L533.60 482.00 L531.00 484.60 Z" fill="#6e6e70" stroke="#333" stroke-width="0.5"/>
<line x1="527.80" y1="482.00" x2="534.20" y2="482.00" stroke="#222" stroke-width="0.5"/>
<line x1="531.00" y1="478.80" x2="531.00" y2="485.20" stroke="#222" stroke-width="0.5"/>
<path d="M534.40 482.00 L537.00 479.40 L539.60 482.00 L537.00 484.60 Z" fill="#6e6e70" stroke="#333" stroke-width="0.5"/>
<line x1="533.80" y1="482.00" x2="540.20" y2="482.00" stroke="#222" stroke-width="0.5"/>
<line x1="537.00" y1="478.80" x2="537.00" y2="485.20" stroke="#222" stroke-width="0.5"/>
<path d="M528.40 542.40 L531.00 539.80 L533.60 542.40 L531.00 545.00 Z" fill="#6e6e70" stroke="#333" stroke-width="0.5"/>
<line x1="527.80" y1="542.40" x2="534.20" y2="542.40" stroke="#222" stroke-width="0.5"/>
<line x1="531.00" y1="539.20" x2="531.00" y2="545.60" stroke="#222" stroke-width="0.5"/>
<path d="M534.40 542.40 L537.00 539.80 L539.60 542.40 L537.00 545.00 Z" fill="#6e6e70" stroke="#333" stroke-width="0.5"/>
<line x1="533.80" y1="542.40" x2="540.20" y2="542.40" stroke="#222" stroke-width="0.5"/>
<line x1="537.00" y1="539.20" x2="537.00" y2="545.60" stroke="#222" stroke-width="0.5"/>
<path d="M642.40 482.00 L645.00 479.40 L647.60 482.00 L645.00 484.60 Z" fill="#6e6e70" stroke="#333" stroke-width="0.5"/>
<line x1="641.80" y1="482.00" x2="648.20" y2="482.00" stroke="#222" stroke-width="0.5"/>
<line x1="645.00" y1="478.80" x2="645.00" y2="485.20" stroke="#222" stroke-width="0.5"/>
<path d="M648.40 482.00 L651.00 479.40 L653.60 482.00 L651.00 484.60 Z" fill="#6e6e70" stroke="#333" stroke-width="0.5"/>
<line x1="647.80" y1="482.00" x2="654.20" y2="482.00" stroke="#222" stroke-width="0.5"/>
<line x1="651.00" y1="478.80" x2="651.00" y2="485.20" stroke="#222" stroke-width="0.5"/>
<path d="M642.40 542.40 L645.00 539.80 L647.60 542.40 L645.00 545.00 Z" fill="#6e6e70" stroke="#333" stroke-width="0.5"/>
<line x1="641.80" y1="542.40" x2="648.20" y2="542.40" stroke="#222" stroke-width="0.5"/>
<line x1="645.00" y1="539.20" x2="645.00" y2="545.60" stroke="#222" stroke-width="0.5"/>
<path d="M648.40 542.40 L651.00 539.80 L653.60 542.40 L651.00 545.00 Z" fill="#6e6e70" stroke="#333" stroke-width="0.5"/>
<line x1="647.80" y1="542.40" x2="654.20" y2="542.40" stroke="#222" stroke-width="0.5"/>
<line x1="651.00" y1="539.20" x2="651.00" y2="545.60" stroke="#222" stroke-width="0.5"/>
<path d="M727.80 482.00 L730.40 479.40 L733.00 482.00 L730.40 484.60 Z" fill="#6e6e70" stroke="#333" stroke-width="0.5"/>
<line x1="727.20" y1="482.00" x2="733.60" y2="482.00" stroke="#222" stroke-width="0.5"/>
<line x1="730.40" y1="478.80" x2="730.40" y2="485.20" stroke="#222" stroke-width="0.5"/>
<path d="M733.80 482.00 L736.40 479.40 L739.00 482.00 L736.40 484.60 Z" fill="#6e6e70" stroke="#333" stroke-width="0.5"/>
<line x1="733.20" y1="482.00" x2="739.60" y2="482.00" stroke="#222" stroke-width="0.5"/>
<line x1="736.40" y1="478.80" x2="736.40" y2="485.20" stroke="#222" stroke-width="0.5"/>
<path d="M727.80 542.40 L730.40 539.80 L733.00 542.40 L730.40 545.00 Z" fill="#6e6e70" stroke="#333" stroke-width="0.5"/>
<line x1="727.20" y1="542.40" x2="733.60" y2="542.40" stroke="#222" stroke-width="0.5"/>
<line x1="730.40" y1="539.20" x2="730.40" y2="545.60" stroke="#222" stroke-width="0.5"/>
<path d="M733.80 542.40 L736.40 539.80 L739.00 542.40 L736.40 545.00 Z" fill="#6e6e70" stroke="#333" stroke-width="0.5"/>
<line x1="733.20" y1="542.40" x2="739.60" y2="542.40" stroke="#222" stroke-width="0.5"/>
<line x1="736.40" y1="539.20" x2="736.40" y2="545.60" stroke="#222" stroke-width="0.5"/>
<rect x="304.60" y="499.60" width="23.00" height="3.40" fill="#cfcfcf" stroke="#161616" stroke-width="1.1"/>
<rect x="299.50" y="508.40" width="4.00" height="6.40" fill="#fff" stroke="#161616" stroke-width="1.1"/>
<rect x="303.50" y="507.60" width="6.60" height="8.00" fill="#ddd" stroke="#161616" stroke-width="1.1"/>
<path d="M310.1 508.79999999999995 H314.5 L317 511.59999999999997 L314.5 514.4 H310.1 Z" fill="#fff" stroke="#161616" stroke-width="1.1"/>
<path d="M317 511.59999999999997 L320 509.4 H327.5 V513.8 H320 Z" fill="#fff" stroke="#161616" stroke-width="1.1"/>
<rect x="299.50" y="518.80" width="4.20" height="7.60" fill="#fff" stroke="#161616" stroke-width="1.1"/>
<rect x="303.70" y="517.80" width="5.60" height="9.60" fill="#ddd" stroke="#161616" stroke-width="1.1"/>
<rect x="309.30" y="519.20" width="3.20" height="6.80" fill="#fff" stroke="#161616" stroke-width="1.0"/>
<rect x="312.50" y="518.20" width="6.40" height="8.80" fill="#e8e8e8" stroke="#161616" stroke-width="1.1"/>
<rect x="318.90" y="520.60" width="8.60" height="4.00" fill="#fff" stroke="#161616" stroke-width="1.1"/>
<line x1="270.00" y1="474.60" x2="330.00" y2="474.60" stroke="#262626" stroke-width="0.85"/>
<line x1="270.00" y1="550.00" x2="330.00" y2="550.00" stroke="#262626" stroke-width="0.85"/>
<line x1="272.90" y1="474.60" x2="272.90" y2="550.00" stroke="#262626" stroke-width="0.85"/>
<polygon points="272.90,474.60 271.65,480.60 274.15,480.60" fill="#262626"/>
<polygon points="272.90,550.00 271.65,544.00 274.15,544.00" fill="#262626"/>
<text x="267.00" y="512.40" font-size="11" text-anchor="middle" fill="#1a1a1a" stroke="#1a1a1a" stroke-width="0.3" transform="rotate(-90 267.00 512.40)">135</text>
<line x1="284.50" y1="482.00" x2="412.00" y2="482.00" stroke="#262626" stroke-width="0.6"/>
<line x1="284.50" y1="542.40" x2="412.00" y2="542.40" stroke="#262626" stroke-width="0.6"/>
<line x1="286.90" y1="482.00" x2="286.90" y2="542.40" stroke="#262626" stroke-width="0.85"/>
<polygon points="286.90,482.00 285.65,488.00 288.15,488.00" fill="#262626"/>
<polygon points="286.90,542.40 285.65,536.40 288.15,536.40" fill="#262626"/>
<text x="284.90" y="512.40" font-size="11" text-anchor="middle" fill="#1a1a1a" stroke="#1a1a1a" stroke-width="0.3" transform="rotate(-90 284.90 512.40)">106</text>
<line x1="327.60" y1="459.50" x2="327.60" y2="474.00" stroke="#262626" stroke-width="0.85"/>
<line x1="777.60" y1="459.50" x2="777.60" y2="570.00" stroke="#262626" stroke-width="0.85"/>
<line x1="417.60" y1="459.50" x2="417.60" y2="481.00" stroke="#262626" stroke-width="0.85"/>
<line x1="645.00" y1="459.50" x2="645.00" y2="481.00" stroke="#262626" stroke-width="0.85"/>
<line x1="730.40" y1="459.50" x2="730.40" y2="481.00" stroke="#262626" stroke-width="0.85"/>
<line x1="327.60" y1="462.30" x2="777.60" y2="462.30" stroke="#262626" stroke-width="0.85"/>
<polygon points="417.60,462.30 411.60,461.05 411.60,463.55" fill="#262626"/>
<polygon points="417.60,462.30 423.60,461.05 423.60,463.55" fill="#262626"/>
<polygon points="645.00,462.30 639.00,461.05 639.00,463.55" fill="#262626"/>
<polygon points="645.00,462.30 651.00,461.05 651.00,463.55" fill="#262626"/>
<polygon points="730.40,462.30 724.40,461.05 724.40,463.55" fill="#262626"/>
<polygon points="730.40,462.30 736.40,461.05 736.40,463.55" fill="#262626"/>
<polygon points="327.60,462.30 333.60,461.05 333.60,463.55" fill="#262626"/>
<polygon points="777.60,462.30 771.60,461.05 771.60,463.55" fill="#262626"/>
<text x="371.60" y="460.20" font-size="11.4" text-anchor="middle" fill="#1a1a1a" stroke="#1a1a1a" stroke-width="0.3">158.5</text>
<text x="532.40" y="460.20" font-size="11.4" text-anchor="middle" fill="#1a1a1a" stroke="#1a1a1a" stroke-width="0.3">M*200</text>
<text x="689.00" y="460.20" font-size="11.4" text-anchor="middle" fill="#1a1a1a" stroke="#1a1a1a" stroke-width="0.3">A</text>
<text x="753.60" y="460.20" font-size="11.4" text-anchor="middle" fill="#1a1a1a" stroke="#1a1a1a" stroke-width="0.3">81.5</text>
<line x1="310.20" y1="486.00" x2="310.20" y2="570.00" stroke="#262626" stroke-width="0.85"/>
<line x1="328.00" y1="550.00" x2="328.00" y2="570.00" stroke="#262626" stroke-width="0.85"/>
<line x1="423.60" y1="543.00" x2="423.60" y2="570.00" stroke="#262626" stroke-width="0.85"/>
<line x1="650.60" y1="543.00" x2="650.60" y2="570.00" stroke="#262626" stroke-width="0.85"/>
<line x1="736.60" y1="543.00" x2="736.60" y2="570.00" stroke="#262626" stroke-width="0.85"/>
<line x1="217.40" y1="567.20" x2="777.60" y2="567.20" stroke="#262626" stroke-width="0.85"/>
<polygon points="310.20,567.20 305.80,565.95 305.80,568.45" fill="#262626"/>
<polygon points="328.00,567.20 332.40,565.95 332.40,568.45" fill="#262626"/>
<polygon points="423.60,567.20 417.60,565.95 417.60,568.45" fill="#262626"/>
<polygon points="423.60,567.20 429.60,565.95 429.60,568.45" fill="#262626"/>
<polygon points="650.60,567.20 644.60,565.95 644.60,568.45" fill="#262626"/>
<polygon points="650.60,567.20 656.60,565.95 656.60,568.45" fill="#262626"/>
<polygon points="736.60,567.20 730.60,565.95 730.60,568.45" fill="#262626"/>
<polygon points="736.60,567.20 742.60,565.95 742.60,568.45" fill="#262626"/>
<polygon points="777.60,567.20 771.60,565.95 771.60,568.45" fill="#262626"/>
<text x="372.40" y="565.20" font-size="11.4" text-anchor="middle" fill="#1a1a1a" stroke="#1a1a1a" stroke-width="0.3">168.5</text>
<text x="535.00" y="565.00" font-size="11.4" text-anchor="middle" fill="#1a1a1a" stroke="#1a1a1a" stroke-width="0.3">M*200</text>
<text x="693.60" y="565.00" font-size="11.4" text-anchor="middle" fill="#1a1a1a" stroke="#1a1a1a" stroke-width="0.3">A</text>
<text x="757.80" y="565.00" font-size="11.4" text-anchor="middle" fill="#1a1a1a" stroke="#1a1a1a" stroke-width="0.3">71.5</text>
<text x="218.80" y="553.80" font-size="12" fill="#1a1a1a" stroke="#1a1a1a" stroke-width="0.3" letter-spacing="-0.289"><tspan font-size="11.6" font-weight="bold" stroke-width="0.05">煞車</tspan><tspan font-size="12">+40</tspan></text>
<text x="218.80" y="564.20" font-size="9.3" fill="#7e7e80" stroke="#7e7e80" stroke-width="0.3" letter-spacing="0.068"><tspan font-size="9.3">Brake:+40</tspan></text>
<text x="459.00" y="579.60" font-size="10.6" fill="#1a1a1a" stroke="#1a1a1a" stroke-width="0.3" letter-spacing="-0.042"><tspan font-size="10.6">N-&#216;7</tspan></text>
<path d="M408 532 L456 582 H485.4" fill="none" stroke="#262626" stroke-width="0.85"/>
<text x="560.40" y="580.00" font-size="11.4" fill="#1a1a1a" stroke="#1a1a1a" stroke-width="0.3" letter-spacing="0.176">N-M6</text>
<line x1="589.07" y1="573.47" x2="595.08" y2="573.47" stroke="#1a1a1a" stroke-width="0.8"/>
<path d="M589.07 575.13 L595.08 575.13 L592.08 579.69 Z" fill="#1a1a1a"/>
<text x="595.14" y="580.00" font-size="11.4" fill="#1a1a1a" stroke="#1a1a1a" stroke-width="0.3" letter-spacing="0.176">10</text>
<path d="M660 532 L611 583.5 H558" fill="none" stroke="#262626" stroke-width="0.85"/>
<text x="159.20" y="249.20" font-size="12" text-anchor="start" fill="#1ea3df" stroke="#1ea3df" stroke-width="0.3" letter-spacing="0.45" stroke-width="0.5">B View</text>
<path d="M179.8 270.8 H182.2 V289.7 H176.4 V285.6 H179.8 Z" fill="#d9dadc" stroke="#333" stroke-width="0.7"/>
<path d="M179.8 314 L182.2 311 V300.8 H176.4 V305.4 H179.8 Z" fill="#d9dadc" stroke="#333" stroke-width="0.7"/>
<path d="M176.4 285.6 H171.5 C165 285.6 161.6 290 161.6 295.5 C161.6 301 165 305.4 171.5 305.4 H176.4" fill="none" stroke="#555" stroke-width="1.6"/>
<path d="M176.4 285.6 H171.5 C165 285.6 161.6 290 161.6 295.5 C161.6 301 165 305.4 171.5 305.4 H176.4" fill="none" stroke="#ddd" stroke-width="0.5"/>
<line x1="182.80" y1="291.00" x2="196.00" y2="291.00" stroke="#262626" stroke-width="0.7"/>
<line x1="174.60" y1="295.40" x2="190.00" y2="295.40" stroke="#262626" stroke-width="0.7"/>
<line x1="182.80" y1="299.90" x2="196.00" y2="299.90" stroke="#262626" stroke-width="0.7"/>
<text x="202.30" y="274.60" font-size="11.4" text-anchor="middle" fill="#1a1a1a" stroke="#1a1a1a" stroke-width="0.3">3.5</text>
<line x1="194.20" y1="276.30" x2="210.00" y2="276.30" stroke="#262626" stroke-width="0.85"/>
<line x1="194.20" y1="276.30" x2="194.20" y2="311.60" stroke="#262626" stroke-width="0.85"/>
<polygon points="194.20,289.90 193.10,284.50 195.30,284.50" fill="#262626"/>
<polygon points="194.20,300.60 193.10,306.00 195.30,306.00" fill="#262626"/>
<text x="206.20" y="318.80" font-size="11.4" text-anchor="middle" fill="#1a1a1a" stroke="#1a1a1a" stroke-width="0.3">1.8</text>
<line x1="165.80" y1="320.70" x2="213.60" y2="320.70" stroke="#262626" stroke-width="0.85"/>
<line x1="165.80" y1="302.00" x2="165.80" y2="338.00" stroke="#262626" stroke-width="0.85"/>
<line x1="176.60" y1="305.60" x2="176.60" y2="323.00" stroke="#262626" stroke-width="0.85"/>
<line x1="181.90" y1="311.00" x2="181.90" y2="338.00" stroke="#262626" stroke-width="0.85"/>
<polygon points="176.60,320.70 171.20,319.60 171.20,321.80" fill="#262626"/>
<polygon points="181.90,320.70 187.30,319.60 187.30,321.80" fill="#262626"/>
<text x="206.00" y="333.60" font-size="11.4" text-anchor="middle" fill="#1a1a1a" stroke="#1a1a1a" stroke-width="0.3">5.5</text>
<line x1="154.60" y1="336.00" x2="214.60" y2="336.00" stroke="#262626" stroke-width="0.85"/>
<polygon points="165.80,336.00 160.40,334.90 160.40,337.10" fill="#262626"/>
<polygon points="181.90,336.00 187.30,334.90 187.30,337.10" fill="#262626"/>
<path d="M140.6 401 V386.6 Q140.6 385.4 141.8 385.4 H145.6 Q146.8 385.4 146.8 386.6 V396" fill="#f2f2f3" stroke="#262626" stroke-width="0.9"/>
<line x1="142.40" y1="386.50" x2="142.40" y2="400.00" stroke="#666" stroke-width="0.5"/>
<path d="M217.0 401 V386.6 Q217.0 385.4 215.8 385.4 H212.0 Q210.8 385.4 210.8 386.6 V396" fill="#f2f2f3" stroke="#262626" stroke-width="0.9"/>
<line x1="215.20" y1="386.50" x2="215.20" y2="400.00" stroke="#666" stroke-width="0.5"/>
<path d="M140.6 429.8 V405 L141.2 403.0 Q144.6 396.6 149.4 391.8 Q151.4 389.9 159.4 387.9 H198.2 Q206.2 389.9 208.2 391.8 Q213.0 396.6 216.4 403.0 L217 405 V429.8 Z" fill="#e7e7e9"/>
<rect x="140.60" y="417.60" width="76.40" height="12.40" fill="#f3f3f4"/>
<path d="M140.6 405 L141.2 403.0 Q144.6 396.6 149.4 391.8 Q151.4 389.9 159.4 387.9 H198.2 Q206.2 389.9 208.2 391.8 Q213.0 396.6 216.4 403.0 L217 405" fill="none" stroke="#1c1c1c" stroke-width="1.3" stroke-linejoin="round"/>
<line x1="140.60" y1="400.00" x2="140.60" y2="430.00" stroke="#1c1c1c" stroke-width="1.0"/>
<line x1="217.00" y1="400.00" x2="217.00" y2="430.00" stroke="#1c1c1c" stroke-width="1.0"/>
<line x1="140.60" y1="417.30" x2="217.00" y2="417.30" stroke="#2a2a2a" stroke-width="1.1"/>
<line x1="146.50" y1="419.60" x2="211.00" y2="419.60" stroke="#555" stroke-width="0.6"/>
<line x1="146.50" y1="423.60" x2="211.00" y2="423.60" stroke="#444" stroke-width="0.7"/>
<line x1="146.60" y1="417.60" x2="146.60" y2="430.00" stroke="#555" stroke-width="0.6"/>
<line x1="211.00" y1="417.60" x2="211.00" y2="430.00" stroke="#555" stroke-width="0.6"/>
<line x1="140.60" y1="430.10" x2="217.00" y2="430.10" stroke="#1c1c1c" stroke-width="1.2"/>
<path d="M167.4 430 V427 Q167.4 424.2 170.4 424.2 H187.2 Q190.2 424.2 190.2 427 V430" fill="#fafafa" stroke="#333" stroke-width="0.8"/>
<circle cx="144.40" cy="426.00" r="1.9" fill="#808082" stroke="#222" stroke-width="0.9"/>
<circle cx="212.60" cy="426.00" r="1.9" fill="#808082" stroke="#222" stroke-width="0.9"/>
<circle cx="143.20" cy="407.90" r="1.9" fill="#808082" stroke="#222" stroke-width="0.9"/>
<line x1="178.60" y1="386.00" x2="178.60" y2="427.00" stroke="#2a2a2a" stroke-width="0.7" stroke-dasharray="9 2.5"/>
<path d="M217.2 392.6 H220.6 V399.6 H222.4 V405 H225.8 V427.2 H217.2" fill="#f1f1f2" stroke="#333" stroke-width="0.8"/>
<line x1="217.20" y1="399.60" x2="222.40" y2="399.60" stroke="#262626" stroke-width="0.6"/>
<line x1="217.20" y1="405.00" x2="225.80" y2="405.00" stroke="#262626" stroke-width="0.6"/>
<line x1="220.40" y1="405.00" x2="220.40" y2="427.00" stroke="#666" stroke-width="0.5"/>
<rect x="214.20" y="411.60" width="5.60" height="3.80" fill="#999" stroke="#222" stroke-width="0.7" rx="1.2"/>
<line x1="213.00" y1="409.00" x2="221.00" y2="409.00" stroke="#262626" stroke-width="0.6"/>
<line x1="213.00" y1="418.50" x2="221.00" y2="418.50" stroke="#262626" stroke-width="0.6"/>
<circle cx="216.40" cy="414.20" r="8.2" fill="none" stroke="#1ea3df" stroke-width="1.3"/>
<text x="223.60" y="401.60" font-size="11.4" text-anchor="start" fill="#1ea3df" stroke="#1ea3df" stroke-width="0.3" font-weight="bold">B</text>
<line x1="143.60" y1="369.50" x2="143.60" y2="386.00" stroke="#262626" stroke-width="0.85"/>
<line x1="213.60" y1="369.50" x2="213.60" y2="386.00" stroke="#262626" stroke-width="0.85"/>
<line x1="143.60" y1="372.30" x2="213.60" y2="372.30" stroke="#262626" stroke-width="0.85"/>
<polygon points="143.60,372.30 149.60,371.05 149.60,373.55" fill="#262626"/>
<polygon points="213.60,372.30 207.60,371.05 207.60,373.55" fill="#262626"/>
<text x="177.80" y="371.00" font-size="11.4" text-anchor="middle" fill="#1a1a1a" stroke="#1a1a1a" stroke-width="0.3">122</text>
<line x1="107.00" y1="385.40" x2="139.50" y2="385.40" stroke="#262626" stroke-width="0.85"/>
<line x1="107.00" y1="430.20" x2="139.50" y2="430.20" stroke="#262626" stroke-width="0.85"/>
<line x1="109.60" y1="385.40" x2="109.60" y2="430.20" stroke="#262626" stroke-width="0.85"/>
<polygon points="109.60,385.40 108.35,391.40 110.85,391.40" fill="#262626"/>
<polygon points="109.60,430.20 108.35,424.20 110.85,424.20" fill="#262626"/>
<text x="108.40" y="407.80" font-size="11.4" text-anchor="middle" fill="#1a1a1a" stroke="#1a1a1a" stroke-width="0.3" transform="rotate(-90 108.40 407.80)">78</text>
<line x1="129.20" y1="402.00" x2="129.20" y2="442.00" stroke="#262626" stroke-width="0.85"/>
<line x1="127.00" y1="414.00" x2="139.50" y2="414.00" stroke="#262626" stroke-width="0.85"/>
<polygon points="129.20,414.00 128.10,408.60 130.30,408.60" fill="#262626"/>
<polygon points="129.20,430.20 128.10,435.60 130.30,435.60" fill="#262626"/>
<text x="128.40" y="421.80" font-size="11.4" text-anchor="middle" fill="#1a1a1a" stroke="#1a1a1a" stroke-width="0.3" transform="rotate(-90 128.40 421.80)">29</text>
<line x1="148.40" y1="431.00" x2="148.40" y2="450.50" stroke="#262626" stroke-width="0.85"/>
<line x1="209.20" y1="431.00" x2="209.20" y2="450.50" stroke="#262626" stroke-width="0.85"/>
<line x1="148.40" y1="447.80" x2="209.20" y2="447.80" stroke="#262626" stroke-width="0.85"/>
<polygon points="148.40,447.80 154.40,446.55 154.40,449.05" fill="#262626"/>
<polygon points="209.20,447.80 203.20,446.55 203.20,449.05" fill="#262626"/>
<text x="178.60" y="446.20" font-size="11.4" text-anchor="middle" fill="#1a1a1a" stroke="#1a1a1a" stroke-width="0.3">106</text>
<line x1="140.40" y1="431.00" x2="140.40" y2="470.50" stroke="#262626" stroke-width="0.85"/>
<line x1="217.20" y1="431.00" x2="217.20" y2="470.50" stroke="#262626" stroke-width="0.85"/>
<line x1="140.40" y1="467.80" x2="217.20" y2="467.80" stroke="#262626" stroke-width="0.85"/>
<polygon points="140.40,467.80 146.40,466.55 146.40,469.05" fill="#262626"/>
<polygon points="217.20,467.80 211.20,466.55 211.20,469.05" fill="#262626"/>
<text x="177.80" y="465.80" font-size="11.4" text-anchor="middle" fill="#1a1a1a" stroke="#1a1a1a" stroke-width="0.3">135</text>
<path d="M351.6 904 H338 Q333.6 904 333.6 908.4 V935.2 Q333.6 939.6 338 939.6 H351.6" fill="none" stroke="#333" stroke-width="0.8" stroke-dasharray="6 2.5"/>
<path d="M408.4 904 H355.6 Q351.6 904 351.6 908 V935.6 Q351.6 939.6 355.6 939.6 H408.4 Z" fill="#e7e7e9" stroke="#1c1c1c" stroke-width="1.2"/>
<line x1="374.40" y1="902.80" x2="374.40" y2="940.80" stroke="#333" stroke-width="1.7"/>
<line x1="372.60" y1="904.00" x2="372.60" y2="939.60" stroke="#777" stroke-width="0.5"/>
<line x1="376.20" y1="904.00" x2="376.20" y2="939.60" stroke="#777" stroke-width="0.5"/>
<path d="M356 939.6 V944 H356.8 V953 H360.4 V944 H361.2 V939.6" fill="#f4f4f4" stroke="#222" stroke-width="0.8"/>
<path d="M377 939.6 V943 L379.2 945.4 V967.6 H384.6 V945.4 L386.8 943 V939.6" fill="#f4f4f4" stroke="#222" stroke-width="0.8"/>
<path d="M409.9 883.0 H714.6 Q720.2 883.4 720.9 893.0 Q722.1 921.6 720.9 949.8 Q720.2 959.4 714.6 959.8 H409.9 Q408.4 959.8 408.4 958.3 V884.5 Q408.4 883.0 409.9 883.0 Z" fill="#e7e7e9"/>
<clipPath id="c2"><rect x="706.9" y="881.0" width="17.700000000000045" height="80.79999999999995"/></clipPath>
<path d="M409.9 883.0 H714.6 Q720.2 883.4 720.9 893.0 Q722.1 921.6 720.9 949.8 Q720.2 959.4 714.6 959.8 H409.9 Q408.4 959.8 408.4 958.3 V884.5 Q408.4 883.0 409.9 883.0 Z" fill="#eeeef0" clip-path="url(#c2)"/>
<rect x="412.40" y="883.60" width="294.50" height="3.00" fill="#fdfdfd"/>
<rect x="412.40" y="956.20" width="294.50" height="3.00" fill="#fdfdfd"/>
<rect x="412.40" y="886.80" width="294.50" height="3.40" fill="#f1f1f2"/>
<rect x="412.40" y="952.60" width="294.50" height="3.40" fill="#f1f1f2"/>
<line x1="412.40" y1="886.60" x2="706.90" y2="886.60" stroke="#3a3a3a" stroke-width="0.9"/>
<line x1="412.40" y1="890.30" x2="706.90" y2="890.30" stroke="#707072" stroke-width="0.9"/>
<line x1="412.40" y1="956.20" x2="706.90" y2="956.20" stroke="#3a3a3a" stroke-width="0.9"/>
<line x1="412.40" y1="952.50" x2="706.90" y2="952.50" stroke="#707072" stroke-width="0.9"/>
<line x1="412.40" y1="901.80" x2="706.90" y2="901.80" stroke="#858688" stroke-width="2.6"/>
<line x1="412.40" y1="940.80" x2="706.90" y2="940.80" stroke="#858688" stroke-width="2.6"/>
<rect x="408.40" y="883.50" width="4.00" height="75.80" fill="#f6f6f7"/>
<line x1="412.40" y1="883.50" x2="412.40" y2="959.30" stroke="#333" stroke-width="0.9"/>
<path d="M706.9 958.8 V889.0 Q706.9 887.0 708.9 887.0 H712.5" fill="none" stroke="#444" stroke-width="0.9"/>
<line x1="704.00" y1="884.00" x2="704.00" y2="890.30" stroke="#666" stroke-width="0.6"/>
<line x1="704.00" y1="952.50" x2="704.00" y2="958.80" stroke="#666" stroke-width="0.6"/>
<rect x="439.20" y="883.20" width="79.70" height="6.80" fill="#efeff0" stroke="#1c1c1c" stroke-width="0.9"/>
<rect x="439.20" y="952.80" width="79.70" height="6.80" fill="#efeff0" stroke="#1c1c1c" stroke-width="0.9"/>
<path d="M442.30 886.60 L444.00 884.90 L445.70 886.60 L444.00 888.30 Z" fill="#6e6e70" stroke="#333" stroke-width="0.5"/>
<line x1="441.70" y1="886.60" x2="446.30" y2="886.60" stroke="#222" stroke-width="0.5"/>
<line x1="444.00" y1="884.30" x2="444.00" y2="888.90" stroke="#222" stroke-width="0.5"/>
<path d="M442.30 956.20 L444.00 954.50 L445.70 956.20 L444.00 957.90 Z" fill="#6e6e70" stroke="#333" stroke-width="0.5"/>
<line x1="441.70" y1="956.20" x2="446.30" y2="956.20" stroke="#222" stroke-width="0.5"/>
<line x1="444.00" y1="953.90" x2="444.00" y2="958.50" stroke="#222" stroke-width="0.5"/>
<path d="M456.70 886.60 L458.40 884.90 L460.10 886.60 L458.40 888.30 Z" fill="#6e6e70" stroke="#333" stroke-width="0.5"/>
<line x1="456.10" y1="886.60" x2="460.70" y2="886.60" stroke="#222" stroke-width="0.5"/>
<line x1="458.40" y1="884.30" x2="458.40" y2="888.90" stroke="#222" stroke-width="0.5"/>
<path d="M456.70 956.20 L458.40 954.50 L460.10 956.20 L458.40 957.90 Z" fill="#6e6e70" stroke="#333" stroke-width="0.5"/>
<line x1="456.10" y1="956.20" x2="460.70" y2="956.20" stroke="#222" stroke-width="0.5"/>
<line x1="458.40" y1="953.90" x2="458.40" y2="958.50" stroke="#222" stroke-width="0.5"/>
<path d="M496.70 886.60 L498.40 884.90 L500.10 886.60 L498.40 888.30 Z" fill="#6e6e70" stroke="#333" stroke-width="0.5"/>
<line x1="496.10" y1="886.60" x2="500.70" y2="886.60" stroke="#222" stroke-width="0.5"/>
<line x1="498.40" y1="884.30" x2="498.40" y2="888.90" stroke="#222" stroke-width="0.5"/>
<path d="M496.70 956.20 L498.40 954.50 L500.10 956.20 L498.40 957.90 Z" fill="#6e6e70" stroke="#333" stroke-width="0.5"/>
<line x1="496.10" y1="956.20" x2="500.70" y2="956.20" stroke="#222" stroke-width="0.5"/>
<line x1="498.40" y1="953.90" x2="498.40" y2="958.50" stroke="#222" stroke-width="0.5"/>
<path d="M512.10 886.60 L513.80 884.90 L515.50 886.60 L513.80 888.30 Z" fill="#6e6e70" stroke="#333" stroke-width="0.5"/>
<line x1="511.50" y1="886.60" x2="516.10" y2="886.60" stroke="#222" stroke-width="0.5"/>
<line x1="513.80" y1="884.30" x2="513.80" y2="888.90" stroke="#222" stroke-width="0.5"/>
<path d="M512.10 956.20 L513.80 954.50 L515.50 956.20 L513.80 957.90 Z" fill="#6e6e70" stroke="#333" stroke-width="0.5"/>
<line x1="511.50" y1="956.20" x2="516.10" y2="956.20" stroke="#222" stroke-width="0.5"/>
<line x1="513.80" y1="953.90" x2="513.80" y2="958.50" stroke="#222" stroke-width="0.5"/>
<circle cx="478.89" cy="886.60" r="1.6" fill="#fff" stroke="#222" stroke-width="0.7"/>
<circle cx="478.89" cy="956.20" r="1.6" fill="#fff" stroke="#222" stroke-width="0.7"/>
<path d="M409.9 883.0 H714.6 Q720.2 883.4 720.9 893.0 Q722.1 921.6 720.9 949.8 Q720.2 959.4 714.6 959.8 H409.9 Q408.4 959.8 408.4 958.3 V884.5 Q408.4 883.0 409.9 883.0 Z" fill="none" stroke="#1c1c1c" stroke-width="1.4"/>
<path d="M419.8 907.4 L423 904.1999999999999 L426.2 907.4 L423 910.6 Z" fill="#111"/>
<path d="M419.8 935.6 L423 932.4 L426.2 935.6 L423 938.8000000000001 Z" fill="#111"/>
<circle cx="703.30" cy="906.90" r="2.0" fill="#8a8a8c" stroke="#161616" stroke-width="1.2"/>
<circle cx="703.30" cy="935.90" r="2.0" fill="#8a8a8c" stroke="#161616" stroke-width="1.2"/>
<line x1="650.00" y1="829.00" x2="650.00" y2="846.50" stroke="#333" stroke-width="0.6"/>
<line x1="433.80" y1="868.00" x2="433.80" y2="959.80" stroke="#2a2a2a" stroke-width="0.75" stroke-dasharray="11 2.5"/>
<line x1="610.00" y1="883.00" x2="610.00" y2="959.80" stroke="#2a2a2a" stroke-width="0.75" stroke-dasharray="11 2.5"/>
<line x1="650.00" y1="871.00" x2="650.00" y2="959.80" stroke="#2a2a2a" stroke-width="0.75" stroke-dasharray="11 2.5"/>
<line x1="689.60" y1="883.00" x2="689.60" y2="959.80" stroke="#2a2a2a" stroke-width="0.75" stroke-dasharray="11 2.5"/>
<line x1="694.40" y1="870.00" x2="694.40" y2="959.80" stroke="#2a2a2a" stroke-width="0.75" stroke-dasharray="11 2.5"/>
<line x1="479.40" y1="829.00" x2="479.40" y2="836.50" stroke="#2a2a2a" stroke-width="0.75"/>
<line x1="479.40" y1="873.50" x2="479.40" y2="959.80" stroke="#2a2a2a" stroke-width="0.75" stroke-dasharray="12 2 2 2"/>
<line x1="346.00" y1="921.60" x2="724.50" y2="921.60" stroke="#2a2a2a" stroke-width="0.75" stroke-dasharray="33 5 11 5"/>
<path d="M461.4 959.8 V962.5999999999999 Q461.4 963.8 462.79999999999995 963.8 H467.2 V959.8" fill="#fff" stroke="#222" stroke-width="0.8"/>
<path d="M490.2 959.8 V963.8 H494.59999999999997 Q495.79999999999995 963.8 495.79999999999995 962.5999999999999 V959.8" fill="#fff" stroke="#222" stroke-width="0.8"/>
<rect x="467.20" y="960.00" width="23.00" height="3.80" fill="#f4f4f4" stroke="#222" stroke-width="0.8"/>
<rect x="470.00" y="961.80" width="3.40" height="7.00" fill="#fff" stroke="#222" stroke-width="0.8"/>
<rect x="484.80" y="961.80" width="3.40" height="7.00" fill="#fff" stroke="#222" stroke-width="0.8"/>
<rect x="647.20" y="960.00" width="3.00" height="3.40" fill="#fff" stroke="#222" stroke-width="0.8"/>
<rect x="660.00" y="960.00" width="3.00" height="3.40" fill="#fff" stroke="#222" stroke-width="0.8"/>
<rect x="650.20" y="959.80" width="9.80" height="3.00" fill="#eee" stroke="#222" stroke-width="0.8"/>
<rect x="653.00" y="961.40" width="3.60" height="6.80" fill="#fff" stroke="#222" stroke-width="0.8"/>
<line x1="409.00" y1="800.00" x2="409.00" y2="806.50" stroke="#262626" stroke-width="0.85"/>
<line x1="409.00" y1="829.50" x2="409.00" y2="843.50" stroke="#262626" stroke-width="0.85"/>
<line x1="409.00" y1="868.00" x2="409.00" y2="882.50" stroke="#262626" stroke-width="0.85"/>
<line x1="722.60" y1="800.00" x2="722.60" y2="882.50" stroke="#262626" stroke-width="0.85"/>
<line x1="409.00" y1="802.80" x2="722.60" y2="802.80" stroke="#262626" stroke-width="0.85"/>
<polygon points="409.00,802.80 415.00,801.55 415.00,804.05" fill="#262626"/>
<polygon points="722.60,802.80 716.60,801.55 716.60,804.05" fill="#262626"/>
<text x="561.20" y="799.80" font-size="10.5" text-anchor="middle" fill="#1a1a1a" stroke="#1a1a1a" stroke-width="0.3">L</text>
<line x1="376.40" y1="832.00" x2="722.60" y2="832.00" stroke="#262626" stroke-width="0.85"/>
<polygon points="409.00,832.00 403.00,830.75 403.00,833.25" fill="#262626"/>
<polygon points="479.40,832.00 483.40,830.75 483.40,833.25" fill="#262626"/>
<polygon points="650.00,832.00 644.00,830.75 644.00,833.25" fill="#262626"/>
<polygon points="650.00,832.00 656.00,830.75 656.00,833.25" fill="#262626"/>
<polygon points="722.60,832.00 716.60,830.75 716.60,833.25" fill="#262626"/>
<text x="382.00" y="817.20" font-size="12" fill="#1a1a1a" stroke="#1a1a1a" stroke-width="0.3" letter-spacing="-0.022"><tspan font-size="11.6" font-weight="bold" stroke-width="0.05">滑台原點</tspan><tspan font-size="12"> 124</tspan></text>
<text x="382.00" y="827.00" font-size="9.2" fill="#7e7e80" stroke="#7e7e80" stroke-width="0.3" letter-spacing="0.149"><tspan font-size="9.2">Origin of actuator:124</tspan></text>
<text x="526.00" y="827.40" font-size="11.6" fill="#1a1a1a" stroke="#1a1a1a" stroke-width="0.3" letter-spacing="-0.067"><tspan font-size="11.6" font-weight="bold" stroke-width="0.05">有效行程</tspan></text>
<text x="575.20" y="827.20" font-size="9.2" fill="#6e6e70" stroke="#6e6e70" stroke-width="0.3" letter-spacing="0.082"><tspan font-size="9.2">Stroke</tspan></text>
<text x="688.00" y="829.60" font-size="11.4" text-anchor="middle" fill="#1a1a1a" stroke="#1a1a1a" stroke-width="0.3">126.5</text>
<text x="301.00" y="855.00" font-size="12" fill="#1a1a1a" stroke="#1a1a1a" stroke-width="0.3" letter-spacing="0.246"><tspan font-size="11.6" font-weight="bold" stroke-width="0.05">滑台機械極限</tspan><tspan font-size="12">:45</tspan><tspan font-size="12">&#177;1</tspan></text>
<text x="301.00" y="864.60" font-size="9.2" fill="#7e7e80" stroke="#7e7e80" stroke-width="0.3" letter-spacing="0.250"><tspan font-size="9.2">Mechanical limit:45</tspan><tspan font-size="9.2">&#177;1</tspan></text>
<line x1="336.40" y1="870.60" x2="445.00" y2="870.60" stroke="#262626" stroke-width="0.85"/>
<polygon points="409.00,870.60 403.00,869.35 403.00,871.85" fill="#262626"/>
<polygon points="433.80,870.60 439.80,869.35 439.80,871.85" fill="#262626"/>
<text x="571.50" y="857.20" font-size="12" fill="#1a1a1a" stroke="#1a1a1a" stroke-width="0.3" letter-spacing="0.361"><tspan font-size="11.6" font-weight="bold" stroke-width="0.05">滑台機械極限</tspan><tspan font-size="12">:44.5</tspan><tspan font-size="12">(</tspan><tspan font-size="12" font-weight="bold" stroke-width="0.05" fill="#1ea3df" stroke="#1ea3df">46.5</tspan><tspan font-size="12">)&#177;1</tspan></text>
<text x="571.50" y="866.80" font-size="9.2" fill="#7e7e80" stroke="#7e7e80" stroke-width="0.3" letter-spacing="0.400"><tspan font-size="9.2">Mechanical limit:44.5</tspan><tspan font-size="9.2">(</tspan><tspan font-size="9.2" font-weight="bold" stroke-width="0.05" fill="#1ea3df" stroke="#1ea3df">46.5</tspan><tspan font-size="9.2">)&#177;1</tspan></text>
<line x1="612.30" y1="873.50" x2="732.50" y2="873.50" stroke="#262626" stroke-width="0.85"/>
<polygon points="694.40,873.50 688.40,872.25 688.40,874.75" fill="#262626"/>
<polygon points="722.60,873.50 728.60,872.25 728.60,874.75" fill="#262626"/>
<line x1="439.20" y1="845.00" x2="439.20" y2="882.50" stroke="#262626" stroke-width="0.85"/>
<line x1="518.90" y1="845.00" x2="518.90" y2="882.50" stroke="#262626" stroke-width="0.85"/>
<line x1="439.20" y1="847.50" x2="518.90" y2="847.50" stroke="#262626" stroke-width="0.85"/>
<polygon points="439.20,847.50 445.20,846.25 445.20,848.75" fill="#262626"/>
<polygon points="518.90,847.50 512.90,846.25 512.90,848.75" fill="#262626"/>
<text x="479.05" y="845.80" font-size="11.4" text-anchor="middle" fill="#1a1a1a" stroke="#1a1a1a" stroke-width="0.3">140</text>
<line x1="443.80" y1="857.50" x2="443.80" y2="882.50" stroke="#262626" stroke-width="0.85"/>
<line x1="514.00" y1="857.50" x2="514.00" y2="882.50" stroke="#262626" stroke-width="0.85"/>
<line x1="443.80" y1="860.00" x2="514.00" y2="860.00" stroke="#262626" stroke-width="0.85"/>
<polygon points="443.80,860.00 449.80,858.75 449.80,861.25" fill="#262626"/>
<polygon points="514.00,860.00 508.00,858.75 508.00,861.25" fill="#262626"/>
<text x="478.90" y="858.40" font-size="11.4" text-anchor="middle" fill="#1a1a1a" stroke="#1a1a1a" stroke-width="0.3">122</text>
<line x1="459.20" y1="870.00" x2="459.20" y2="882.50" stroke="#262626" stroke-width="0.85"/>
<line x1="499.40" y1="870.00" x2="499.40" y2="882.50" stroke="#262626" stroke-width="0.85"/>
<line x1="459.20" y1="872.50" x2="499.40" y2="872.50" stroke="#262626" stroke-width="0.85"/>
<polygon points="459.20,872.50 465.20,871.25 465.20,873.75" fill="#262626"/>
<polygon points="499.40,872.50 493.40,871.25 493.40,873.75" fill="#262626"/>
<text x="479.30" y="871.00" font-size="11.4" text-anchor="middle" fill="#1a1a1a" stroke="#1a1a1a" stroke-width="0.3">70</text>
<line x1="519.00" y1="887.20" x2="552.00" y2="887.20" stroke="#262626" stroke-width="0.6"/>
<line x1="519.00" y1="955.60" x2="552.00" y2="955.60" stroke="#262626" stroke-width="0.6"/>
<line x1="548.70" y1="887.20" x2="548.70" y2="955.60" stroke="#262626" stroke-width="0.85"/>
<polygon points="548.70,887.20 547.45,893.20 549.95,893.20" fill="#262626"/>
<polygon points="548.70,955.60 547.45,949.60 549.95,949.60" fill="#262626"/>
<text x="545.80" y="921.20" font-size="11.4" text-anchor="middle" fill="#1a1a1a" stroke="#1a1a1a" stroke-width="0.3" transform="rotate(-90 545.80 921.20)">122</text>
<line x1="334.40" y1="940.00" x2="334.40" y2="1003.50" stroke="#262626" stroke-width="0.85"/>
<line x1="352.40" y1="940.00" x2="352.40" y2="1003.50" stroke="#262626" stroke-width="0.85"/>
<line x1="323.00" y1="1001.00" x2="400.50" y2="1001.00" stroke="#262626" stroke-width="0.85"/>
<polygon points="334.40,1001.00 330.00,999.75 330.00,1002.25" fill="#262626"/>
<polygon points="352.40,1001.00 356.80,999.75 356.80,1002.25" fill="#262626"/>
<text x="357.00" y="988.00" font-size="12" fill="#1a1a1a" stroke="#1a1a1a" stroke-width="0.3" letter-spacing="-0.439"><tspan font-size="11.6" font-weight="bold" stroke-width="0.05">煞車</tspan><tspan font-size="12">+40</tspan></text>
<text x="357.00" y="998.00" font-size="9.3" fill="#7e7e80" stroke="#7e7e80" stroke-width="0.3" letter-spacing="0.068"><tspan font-size="9.3">Brake:+40</tspan></text>
<text x="405.00" y="978.00" font-size="11.4" fill="#1a1a1a" stroke="#1a1a1a" stroke-width="0.3" letter-spacing="0.082">2-&#216;6</text>
<line x1="430.77" y1="971.47" x2="436.79" y2="971.47" stroke="#1a1a1a" stroke-width="0.8"/>
<path d="M430.77 973.13 L436.79 973.13 L433.78 977.69 Z" fill="#1a1a1a"/>
<text x="436.75" y="978.00" font-size="11.4" fill="#1a1a1a" stroke="#1a1a1a" stroke-width="0.3" letter-spacing="0.082">15 H7</text>
<path d="M403 983 H469 L484.4 944.6" fill="none" stroke="#262626" stroke-width="0.85"/>
<text x="530.70" y="975.30" font-size="11.4" fill="#1a1a1a" stroke="#1a1a1a" stroke-width="0.3" letter-spacing="0.358">8-M6</text>
<line x1="558.20" y1="968.77" x2="564.22" y2="968.77" stroke="#1a1a1a" stroke-width="0.8"/>
<path d="M558.21 970.43 L564.22 970.43 L561.21 974.99 Z" fill="#1a1a1a"/>
<text x="564.46" y="975.30" font-size="11.4" fill="#1a1a1a" stroke="#1a1a1a" stroke-width="0.3" letter-spacing="0.358">15</text>
<path d="M506 945.5 L526.4 978.4 H580" fill="none" stroke="#262626" stroke-width="0.85"/>
<path d="M351.6 1043.6 H338 Q333.6 1043.6 333.6 1048 V1075.6 Q333.6 1080 338 1080 H351.6" fill="none" stroke="#333" stroke-width="0.8" stroke-dasharray="6 2.5"/>
<path d="M408.4 1043.6 H356.6 Q351.6 1043.6 351.6 1048.6 V1075 Q351.6 1080 356.6 1080 H408.4 Z" fill="#e7e7e9" stroke="#1c1c1c" stroke-width="1.2"/>
<line x1="374.40" y1="1042.60" x2="374.40" y2="1081.00" stroke="#333" stroke-width="1.7"/>
<line x1="351.60" y1="1061.40" x2="408.40" y2="1061.40" stroke="#333" stroke-width="0.6"/>
<rect x="355.60" y="1054.40" width="4.80" height="13.60" fill="#fbfbfb" stroke="#222" stroke-width="0.8"/>
<rect x="356.60" y="1059.00" width="2.80" height="4.60" fill="#fff" stroke="#333" stroke-width="0.6"/>
<rect x="378.00" y="1054.40" width="8.00" height="14.00" fill="#fbfbfb" stroke="#222" stroke-width="0.8" rx="1"/>
<circle cx="382.00" cy="1061.40" r="2.0" fill="#999" stroke="#222" stroke-width="0.8"/>
<path d="M409.4 1039.6 H716.6 Q721.6 1039.6 721.6 1044.6 V1077.6 Q721.6 1081.6 717.6 1081.6 H409.4 Q408.4 1081.6 408.4 1080.6 V1040.6 Q408.4 1039.6 409.4 1039.6 Z" fill="#e7e7e9"/>
<rect x="412.40" y="1040.40" width="295.80" height="6.80" fill="#f3f3f4"/>
<rect x="412.40" y="1047.80" width="292.00" height="6.60" fill="#ededee"/>
<rect x="408.40" y="1040.10" width="4.00" height="41.00" fill="#f8f8f8"/>
<line x1="412.40" y1="1040.10" x2="412.40" y2="1081.10" stroke="#333" stroke-width="0.9"/>
<line x1="414.60" y1="1047.60" x2="414.60" y2="1081.10" stroke="#666" stroke-width="0.6"/>
<path d="M708.2 1040.3999999999999 V1047.3999999999999 H704.4 V1081.0" fill="none" stroke="#333" stroke-width="0.8"/>
<line x1="412.40" y1="1047.30" x2="708.20" y2="1047.30" stroke="#444" stroke-width="0.8"/>
<line x1="412.40" y1="1054.70" x2="704.40" y2="1054.70" stroke="#444" stroke-width="0.8"/>
<line x1="412.40" y1="1064.40" x2="704.40" y2="1064.40" stroke="#6a6a6c" stroke-width="1.6"/>
<line x1="412.40" y1="1066.90" x2="704.40" y2="1066.90" stroke="#555" stroke-width="0.6"/>
<path d="M714.7 1059.6999999999998 L717.5 1056.8999999999999 L720.1 1059.6999999999998 L717.5 1062.5 Z" fill="#fff" stroke="#222" stroke-width="0.7"/>
<rect x="704.40" y="1063.70" width="5.20" height="3.60" fill="#fff" stroke="#333" stroke-width="0.7"/>
<rect x="704.40" y="1069.30" width="8.40" height="5.80" fill="#fff" stroke="#333" stroke-width="0.7"/>
<rect x="712.80" y="1069.30" width="4.60" height="5.80" fill="#fff" stroke="#333" stroke-width="0.7"/>
<rect x="704.40" y="1075.10" width="11.00" height="6.20" fill="#f4f4f4" stroke="#333" stroke-width="0.7"/>
<circle cx="717.60" cy="1078.70" r="1.5" fill="#aaa" stroke="#333" stroke-width="0.6"/>
<rect x="439.20" y="1037.60" width="80.40" height="16.80" fill="#e7e7e9"/>
<path d="M439.2 1054.4 V1037.6 H519.6 V1054.4" fill="none" stroke="#1c1c1c" stroke-width="1.0"/>
<rect x="459.20" y="1043.60" width="40.00" height="7.60" fill="#fafafa" stroke="#222" stroke-width="0.9"/>
<circle cx="464.00" cy="1047.40" r="2.4" fill="#3a3a3a" stroke="#111" stroke-width="1.0"/>
<circle cx="493.60" cy="1047.40" r="2.4" fill="#3a3a3a" stroke="#111" stroke-width="1.0"/>
<path d="M475.6 1051.2 V1060.0 H484.0 V1051.2" fill="#f6f6f6" stroke="#222" stroke-width="0.9"/>
<rect x="470.40" y="1056.50" width="3.90" height="22.40" fill="#fafafa" stroke="#222" stroke-width="0.9" rx="1.2"/>
<rect x="485.00" y="1056.50" width="3.90" height="22.40" fill="#fafafa" stroke="#222" stroke-width="0.9" rx="1.2"/>
<rect x="465.40" y="1063.50" width="3.20" height="3.40" fill="#222"/>
<rect x="476.80" y="1063.50" width="3.20" height="3.40" fill="#222"/>
<rect x="479.60" y="1063.50" width="3.20" height="3.40" fill="#222"/>
<rect x="491.40" y="1063.50" width="3.20" height="3.40" fill="#222"/>
<rect x="652.00" y="1056.50" width="4.40" height="22.40" fill="#fafafa" stroke="#222" stroke-width="0.9" rx="1.2"/>
<rect x="646.60" y="1063.50" width="3.20" height="3.40" fill="#222"/>
<rect x="658.60" y="1063.50" width="3.20" height="3.40" fill="#222"/>
<path d="M409.4 1039.6 H716.6 Q721.6 1039.6 721.6 1044.6 V1077.6 Q721.6 1081.6 717.6 1081.6 H409.4 Q408.4 1081.6 408.4 1080.6 V1040.6 Q408.4 1039.6 409.4 1039.6 Z" fill="none" stroke="#1c1c1c" stroke-width="1.4"/>
<rect x="439.80" y="1038.60" width="79.20" height="2.20" fill="#e7e7e9"/>
<text x="456.40" y="1024.00" font-size="11.4" text-anchor="middle" fill="#1a1a1a" stroke="#1a1a1a" stroke-width="0.3">17</text>
<line x1="449.60" y1="1026.00" x2="462.20" y2="1026.00" stroke="#262626" stroke-width="0.85"/>
<line x1="449.60" y1="1026.00" x2="449.60" y2="1058.00" stroke="#262626" stroke-width="0.85"/>
<polygon points="449.60,1037.60 448.50,1032.00 450.70,1032.00" fill="#262626"/>
<polygon points="449.60,1047.40 448.50,1053.00 450.70,1053.00" fill="#262626"/>
<line x1="447.50" y1="1047.40" x2="459.00" y2="1047.40" stroke="#262626" stroke-width="0.6"/>
<line x1="464.00" y1="1023.50" x2="464.00" y2="1046.50" stroke="#262626" stroke-width="0.85"/>
<line x1="493.60" y1="1023.50" x2="493.60" y2="1046.50" stroke="#262626" stroke-width="0.85"/>
<line x1="464.00" y1="1026.00" x2="493.60" y2="1026.00" stroke="#262626" stroke-width="0.85"/>
<polygon points="464.00,1026.00 470.00,1024.75 470.00,1027.25" fill="#262626"/>
<polygon points="493.60,1026.00 487.60,1024.75 487.60,1027.25" fill="#262626"/>
<text x="479.00" y="1024.00" font-size="11.4" text-anchor="middle" fill="#1a1a1a" stroke="#1a1a1a" stroke-width="0.3">50</text>
<text x="515.80" y="999.20" font-size="11.4" fill="#1a1a1a" stroke="#1a1a1a" stroke-width="0.3" letter-spacing="0.324">4-M5</text>
<line x1="543.17" y1="992.67" x2="549.19" y2="992.67" stroke="#1a1a1a" stroke-width="0.8"/>
<path d="M543.17 994.33 L549.19 994.33 L546.18 998.89 Z" fill="#1a1a1a"/>
<text x="549.40" y="999.20" font-size="11.4" fill="#1a1a1a" stroke="#1a1a1a" stroke-width="0.3" letter-spacing="0.324">10</text>
<text x="515.80" y="1013.10" font-size="11.6" fill="#1a1a1a" stroke="#1a1a1a" stroke-width="0.3" letter-spacing="0.033"><tspan font-size="11.6" font-weight="bold" stroke-width="0.05">對面同位置兩孔</tspan></text>
<text x="515.80" y="1023.20" font-size="9.3" fill="#77777a" stroke="#77777a" stroke-width="0.3" letter-spacing="0.140"><tspan font-size="9.3">2 holes on the same position at opposite side.</tspan></text>
<path d="M711.8 1026.2 H513.6 L486.4 1053.8" fill="none" stroke="#262626" stroke-width="0.85"/>
<path d="M351.6 1144 H338 Q333.6 1144 333.6 1148.4 V1174.6 Q333.6 1179 338 1179 H351.6" fill="none" stroke="#333" stroke-width="0.8" stroke-dasharray="6 2.5"/>
<path d="M408.4 1144 H355.6 Q351.6 1144 351.6 1148 V1175 Q351.6 1179 355.6 1179 H408.4 Z" fill="#e7e7e9" stroke="#1c1c1c" stroke-width="1.2"/>
<line x1="374.40" y1="1142.80" x2="374.40" y2="1180.40" stroke="#333" stroke-width="1.7"/>
<path d="M356 1144 V1139.6 H356.8 V1130.4 H360.2 V1139.6 H361 V1144" fill="#f4f4f4" stroke="#222" stroke-width="0.8"/>
<path d="M377.4 1144 V1140.4 L379.6 1138 V1116.4 H384.2 V1138 L386.4 1140.4 V1144" fill="#f4f4f4" stroke="#222" stroke-width="0.8"/>
<path d="M409.9 1123.0 H714.4 Q720.0 1123.4 720.6999999999999 1133.0 Q721.9 1161.4 720.6999999999999 1190.0 Q720.0 1199.6 714.4 1200.0 H409.9 Q408.4 1200.0 408.4 1198.5 V1124.5 Q408.4 1123.0 409.9 1123.0 Z" fill="#e7e7e9"/>
<rect x="408.40" y="1123.50" width="4.00" height="76.00" fill="#f8f8f8"/>
<line x1="412.40" y1="1123.50" x2="412.40" y2="1199.50" stroke="#333" stroke-width="0.9"/>
<path d="M720.4 1124.0 H704.0 V1131.0 Q704.0 1134.4 707.6 1134.4 H715.8 Q718.8 1134.4 718.8 1137.4 V1185.6 Q718.8 1188.4 715.8 1188.4 H707.6 Q704.0 1188.4 704.0 1191.8 V1199.0 H720.4 Z" fill="#f0f0f1" stroke="#333" stroke-width="0.7"/>
<line x1="412.40" y1="1143.40" x2="718.80" y2="1143.40" stroke="#444" stroke-width="0.8"/>
<line x1="412.40" y1="1181.60" x2="718.80" y2="1181.60" stroke="#444" stroke-width="0.8"/>
<path d="M409.9 1123.0 H714.4 Q720.0 1123.4 720.6999999999999 1133.0 Q721.9 1161.4 720.6999999999999 1190.0 Q720.0 1199.6 714.4 1200.0 H409.9 Q408.4 1200.0 408.4 1198.5 V1124.5 Q408.4 1123.0 409.9 1123.0 Z" fill="none" stroke="#1c1c1c" stroke-width="1.4"/>
<path d="M416.60 1131.80 L419.20 1129.20 L421.80 1131.80 L419.20 1134.40 Z" fill="#6e6e70" stroke="#333" stroke-width="0.5"/>
<line x1="416.00" y1="1131.80" x2="422.40" y2="1131.80" stroke="#222" stroke-width="0.5"/>
<line x1="419.20" y1="1128.60" x2="419.20" y2="1135.00" stroke="#222" stroke-width="0.5"/>
<path d="M422.60 1131.80 L425.20 1129.20 L427.80 1131.80 L425.20 1134.40 Z" fill="#6e6e70" stroke="#333" stroke-width="0.5"/>
<line x1="422.00" y1="1131.80" x2="428.40" y2="1131.80" stroke="#222" stroke-width="0.5"/>
<line x1="425.20" y1="1128.60" x2="425.20" y2="1135.00" stroke="#222" stroke-width="0.5"/>
<path d="M416.60 1192.00 L419.20 1189.40 L421.80 1192.00 L419.20 1194.60 Z" fill="#6e6e70" stroke="#333" stroke-width="0.5"/>
<line x1="416.00" y1="1192.00" x2="422.40" y2="1192.00" stroke="#222" stroke-width="0.5"/>
<line x1="419.20" y1="1188.80" x2="419.20" y2="1195.20" stroke="#222" stroke-width="0.5"/>
<path d="M422.60 1192.00 L425.20 1189.40 L427.80 1192.00 L425.20 1194.60 Z" fill="#6e6e70" stroke="#333" stroke-width="0.5"/>
<line x1="422.00" y1="1192.00" x2="428.40" y2="1192.00" stroke="#222" stroke-width="0.5"/>
<line x1="425.20" y1="1188.80" x2="425.20" y2="1195.20" stroke="#222" stroke-width="0.5"/>
<path d="M530.20 1131.80 L532.80 1129.20 L535.40 1131.80 L532.80 1134.40 Z" fill="#6e6e70" stroke="#333" stroke-width="0.5"/>
<line x1="529.60" y1="1131.80" x2="536.00" y2="1131.80" stroke="#222" stroke-width="0.5"/>
<line x1="532.80" y1="1128.60" x2="532.80" y2="1135.00" stroke="#222" stroke-width="0.5"/>
<path d="M536.20 1131.80 L538.80 1129.20 L541.40 1131.80 L538.80 1134.40 Z" fill="#6e6e70" stroke="#333" stroke-width="0.5"/>
<line x1="535.60" y1="1131.80" x2="542.00" y2="1131.80" stroke="#222" stroke-width="0.5"/>
<line x1="538.80" y1="1128.60" x2="538.80" y2="1135.00" stroke="#222" stroke-width="0.5"/>
<path d="M530.20 1192.00 L532.80 1189.40 L535.40 1192.00 L532.80 1194.60 Z" fill="#6e6e70" stroke="#333" stroke-width="0.5"/>
<line x1="529.60" y1="1192.00" x2="536.00" y2="1192.00" stroke="#222" stroke-width="0.5"/>
<line x1="532.80" y1="1188.80" x2="532.80" y2="1195.20" stroke="#222" stroke-width="0.5"/>
<path d="M536.20 1192.00 L538.80 1189.40 L541.40 1192.00 L538.80 1194.60 Z" fill="#6e6e70" stroke="#333" stroke-width="0.5"/>
<line x1="535.60" y1="1192.00" x2="542.00" y2="1192.00" stroke="#222" stroke-width="0.5"/>
<line x1="538.80" y1="1188.80" x2="538.80" y2="1195.20" stroke="#222" stroke-width="0.5"/>
<path d="M644.60 1131.80 L647.20 1129.20 L649.80 1131.80 L647.20 1134.40 Z" fill="#6e6e70" stroke="#333" stroke-width="0.5"/>
<line x1="644.00" y1="1131.80" x2="650.40" y2="1131.80" stroke="#222" stroke-width="0.5"/>
<line x1="647.20" y1="1128.60" x2="647.20" y2="1135.00" stroke="#222" stroke-width="0.5"/>
<path d="M650.60 1131.80 L653.20 1129.20 L655.80 1131.80 L653.20 1134.40 Z" fill="#6e6e70" stroke="#333" stroke-width="0.5"/>
<line x1="650.00" y1="1131.80" x2="656.40" y2="1131.80" stroke="#222" stroke-width="0.5"/>
<line x1="653.20" y1="1128.60" x2="653.20" y2="1135.00" stroke="#222" stroke-width="0.5"/>
<path d="M644.60 1192.00 L647.20 1189.40 L649.80 1192.00 L647.20 1194.60 Z" fill="#6e6e70" stroke="#333" stroke-width="0.5"/>
<line x1="644.00" y1="1192.00" x2="650.40" y2="1192.00" stroke="#222" stroke-width="0.5"/>
<line x1="647.20" y1="1188.80" x2="647.20" y2="1195.20" stroke="#222" stroke-width="0.5"/>
<path d="M650.60 1192.00 L653.20 1189.40 L655.80 1192.00 L653.20 1194.60 Z" fill="#6e6e70" stroke="#333" stroke-width="0.5"/>
<line x1="650.00" y1="1192.00" x2="656.40" y2="1192.00" stroke="#222" stroke-width="0.5"/>
<line x1="653.20" y1="1188.80" x2="653.20" y2="1195.20" stroke="#222" stroke-width="0.5"/>
<path d="M672.80 1131.80 L675.40 1129.20 L678.00 1131.80 L675.40 1134.40 Z" fill="#6e6e70" stroke="#333" stroke-width="0.5"/>
<line x1="672.20" y1="1131.80" x2="678.60" y2="1131.80" stroke="#222" stroke-width="0.5"/>
<line x1="675.40" y1="1128.60" x2="675.40" y2="1135.00" stroke="#222" stroke-width="0.5"/>
<path d="M678.80 1131.80 L681.40 1129.20 L684.00 1131.80 L681.40 1134.40 Z" fill="#6e6e70" stroke="#333" stroke-width="0.5"/>
<line x1="678.20" y1="1131.80" x2="684.60" y2="1131.80" stroke="#222" stroke-width="0.5"/>
<line x1="681.40" y1="1128.60" x2="681.40" y2="1135.00" stroke="#222" stroke-width="0.5"/>
<path d="M672.80 1192.00 L675.40 1189.40 L678.00 1192.00 L675.40 1194.60 Z" fill="#6e6e70" stroke="#333" stroke-width="0.5"/>
<line x1="672.20" y1="1192.00" x2="678.60" y2="1192.00" stroke="#222" stroke-width="0.5"/>
<line x1="675.40" y1="1188.80" x2="675.40" y2="1195.20" stroke="#222" stroke-width="0.5"/>
<path d="M678.80 1192.00 L681.40 1189.40 L684.00 1192.00 L681.40 1194.60 Z" fill="#6e6e70" stroke="#333" stroke-width="0.5"/>
<line x1="678.20" y1="1192.00" x2="684.60" y2="1192.00" stroke="#222" stroke-width="0.5"/>
<line x1="681.40" y1="1188.80" x2="681.40" y2="1195.20" stroke="#222" stroke-width="0.5"/>
<line x1="346.00" y1="1161.40" x2="723.50" y2="1161.40" stroke="#2a2a2a" stroke-width="0.75" stroke-dasharray="33 5 11 5"/>
<line x1="408.40" y1="1100.50" x2="408.40" y2="1122.50" stroke="#262626" stroke-width="0.85"/>
<line x1="419.40" y1="1100.50" x2="419.40" y2="1130.00" stroke="#262626" stroke-width="0.85"/>
<line x1="646.80" y1="1100.50" x2="646.80" y2="1130.00" stroke="#262626" stroke-width="0.85"/>
<line x1="675.20" y1="1100.50" x2="675.20" y2="1130.00" stroke="#262626" stroke-width="0.85"/>
<line x1="722.20" y1="1100.50" x2="722.20" y2="1227.00" stroke="#262626" stroke-width="0.85"/>
<line x1="386.00" y1="1103.00" x2="722.20" y2="1103.00" stroke="#262626" stroke-width="0.85"/>
<polygon points="408.40,1103.00 402.40,1101.75 402.40,1104.25" fill="#262626"/>
<polygon points="419.40,1103.00 425.40,1101.75 425.40,1104.25" fill="#262626"/>
<polygon points="646.80,1103.00 640.80,1101.75 640.80,1104.25" fill="#262626"/>
<polygon points="646.80,1103.00 652.80,1101.75 652.80,1104.25" fill="#262626"/>
<polygon points="675.20,1103.00 669.20,1101.75 669.20,1104.25" fill="#262626"/>
<polygon points="675.20,1103.00 681.20,1101.75 681.20,1104.25" fill="#262626"/>
<polygon points="722.20,1103.00 716.20,1101.75 716.20,1104.25" fill="#262626"/>
<text x="394.40" y="1100.40" font-size="11.4" text-anchor="middle" fill="#1a1a1a" stroke="#1a1a1a" stroke-width="0.3">19</text>
<text x="532.80" y="1100.20" font-size="11.4" text-anchor="middle" fill="#1a1a1a" stroke="#1a1a1a" stroke-width="0.3">M*200</text>
<text x="661.40" y="1100.20" font-size="11.4" text-anchor="middle" fill="#1a1a1a" stroke="#1a1a1a" stroke-width="0.3">A</text>
<text x="698.40" y="1100.20" font-size="11.4" text-anchor="middle" fill="#1a1a1a" stroke="#1a1a1a" stroke-width="0.3">81.5</text>
<line x1="408.40" y1="1200.00" x2="408.40" y2="1226.50" stroke="#262626" stroke-width="0.85"/>
<line x1="425.20" y1="1193.00" x2="425.20" y2="1226.50" stroke="#262626" stroke-width="0.85"/>
<line x1="652.80" y1="1193.00" x2="652.80" y2="1226.50" stroke="#262626" stroke-width="0.85"/>
<line x1="680.80" y1="1193.00" x2="680.80" y2="1226.50" stroke="#262626" stroke-width="0.85"/>
<line x1="397.00" y1="1223.80" x2="722.20" y2="1223.80" stroke="#262626" stroke-width="0.85"/>
<polygon points="408.40,1223.80 402.40,1222.55 402.40,1225.05" fill="#262626"/>
<polygon points="425.20,1223.80 431.20,1222.55 431.20,1225.05" fill="#262626"/>
<polygon points="652.80,1223.80 646.80,1222.55 646.80,1225.05" fill="#262626"/>
<polygon points="652.80,1223.80 658.80,1222.55 658.80,1225.05" fill="#262626"/>
<polygon points="680.80,1223.80 674.80,1222.55 674.80,1225.05" fill="#262626"/>
<polygon points="680.80,1223.80 686.80,1222.55 686.80,1225.05" fill="#262626"/>
<polygon points="722.20,1223.80 716.20,1222.55 716.20,1225.05" fill="#262626"/>
<text x="417.00" y="1220.20" font-size="11.4" text-anchor="middle" fill="#1a1a1a" stroke="#1a1a1a" stroke-width="0.3">29</text>
<text x="540.80" y="1220.20" font-size="11.4" text-anchor="middle" fill="#1a1a1a" stroke="#1a1a1a" stroke-width="0.3">M*200</text>
<text x="666.80" y="1220.20" font-size="11.4" text-anchor="middle" fill="#1a1a1a" stroke="#1a1a1a" stroke-width="0.3">A</text>
<text x="701.80" y="1220.20" font-size="11.4" text-anchor="middle" fill="#1a1a1a" stroke="#1a1a1a" stroke-width="0.3">71.5</text>
<text x="427.00" y="1116.00" font-size="10.6" fill="#1a1a1a" stroke="#1a1a1a" stroke-width="0.3" letter-spacing="-0.175"><tspan font-size="10.6">N-&#216;7</tspan></text>
<path d="M453 1118.4 H425 L414 1142.6" fill="none" stroke="#262626" stroke-width="0.85"/>
<text x="459.00" y="1211.60" font-size="11.4" fill="#1a1a1a" stroke="#1a1a1a" stroke-width="0.3" letter-spacing="0.209">N-M6</text>
<line x1="487.80" y1="1205.07" x2="493.82" y2="1205.07" stroke="#1a1a1a" stroke-width="0.8"/>
<path d="M487.81 1206.73 L493.82 1206.73 L490.81 1211.29 Z" fill="#1a1a1a"/>
<text x="493.91" y="1211.60" font-size="11.4" fill="#1a1a1a" stroke="#1a1a1a" stroke-width="0.3" letter-spacing="0.209">10</text>
<path d="M507.4 1214 H456 L414 1184.4" fill="none" stroke="#262626" stroke-width="0.85"/>
<line x1="684.40" y1="1131.80" x2="740.00" y2="1131.80" stroke="#262626" stroke-width="0.6"/>
<line x1="684.40" y1="1192.00" x2="740.00" y2="1192.00" stroke="#262626" stroke-width="0.6"/>
<line x1="737.20" y1="1131.80" x2="737.20" y2="1192.00" stroke="#262626" stroke-width="0.85"/>
<polygon points="737.20,1131.80 735.95,1137.80 738.45,1137.80" fill="#262626"/>
<polygon points="737.20,1192.00 735.95,1186.00 738.45,1186.00" fill="#262626"/>
<text x="735.00" y="1161.40" font-size="11.4" text-anchor="middle" fill="#1a1a1a" stroke="#1a1a1a" stroke-width="0.3" transform="rotate(-90 735.00 1161.40)">106</text>
<line x1="721.00" y1="1123.00" x2="754.00" y2="1123.00" stroke="#262626" stroke-width="0.85"/>
<line x1="721.00" y1="1200.00" x2="754.00" y2="1200.00" stroke="#262626" stroke-width="0.85"/>
<line x1="751.20" y1="1123.00" x2="751.20" y2="1200.00" stroke="#262626" stroke-width="0.85"/>
<polygon points="751.20,1123.00 749.95,1129.00 752.45,1129.00" fill="#262626"/>
<polygon points="751.20,1200.00 749.95,1194.00 752.45,1194.00" fill="#262626"/>
<text x="749.00" y="1161.40" font-size="11.4" text-anchor="middle" fill="#1a1a1a" stroke="#1a1a1a" stroke-width="0.3" transform="rotate(-90 749.00 1161.40)">135</text>
<text x="208.70" y="860.00" font-size="12" text-anchor="start" fill="#1ea3df" stroke="#1ea3df" stroke-width="0.3" letter-spacing="0.45" stroke-width="0.5">B View</text>
<path d="M229.3 881.5999999999999 H231.7 V900.5 H225.9 V896.4 H229.3 Z" fill="#d9dadc" stroke="#333" stroke-width="0.7"/>
<path d="M229.3 924.8 L231.7 921.8 V911.5999999999999 H225.9 V916.1999999999999 H229.3 Z" fill="#d9dadc" stroke="#333" stroke-width="0.7"/>
<path d="M225.9 896.4 H221.0 C214.5 896.4 211.1 900.8 211.1 906.3 C211.1 911.8 214.5 916.1999999999999 221.0 916.1999999999999 H225.9" fill="none" stroke="#555" stroke-width="1.6"/>
<path d="M225.9 896.4 H221.0 C214.5 896.4 211.1 900.8 211.1 906.3 C211.1 911.8 214.5 916.1999999999999 221.0 916.1999999999999 H225.9" fill="none" stroke="#ddd" stroke-width="0.5"/>
<line x1="232.30" y1="901.80" x2="245.50" y2="901.80" stroke="#262626" stroke-width="0.7"/>
<line x1="224.10" y1="906.20" x2="239.50" y2="906.20" stroke="#262626" stroke-width="0.7"/>
<line x1="232.30" y1="910.70" x2="245.50" y2="910.70" stroke="#262626" stroke-width="0.7"/>
<text x="251.80" y="885.40" font-size="11.4" text-anchor="middle" fill="#1a1a1a" stroke="#1a1a1a" stroke-width="0.3">3.5</text>
<line x1="243.70" y1="887.10" x2="259.50" y2="887.10" stroke="#262626" stroke-width="0.85"/>
<line x1="243.70" y1="887.10" x2="243.70" y2="922.40" stroke="#262626" stroke-width="0.85"/>
<polygon points="243.70,900.70 242.60,895.30 244.80,895.30" fill="#262626"/>
<polygon points="243.70,911.40 242.60,916.80 244.80,916.80" fill="#262626"/>
<text x="255.70" y="929.60" font-size="11.4" text-anchor="middle" fill="#1a1a1a" stroke="#1a1a1a" stroke-width="0.3">1.8</text>
<line x1="215.30" y1="931.50" x2="263.10" y2="931.50" stroke="#262626" stroke-width="0.85"/>
<line x1="215.30" y1="912.80" x2="215.30" y2="948.80" stroke="#262626" stroke-width="0.85"/>
<line x1="226.10" y1="916.40" x2="226.10" y2="933.80" stroke="#262626" stroke-width="0.85"/>
<line x1="231.40" y1="921.80" x2="231.40" y2="948.80" stroke="#262626" stroke-width="0.85"/>
<polygon points="226.10,931.50 220.70,930.40 220.70,932.60" fill="#262626"/>
<polygon points="231.40,931.50 236.80,930.40 236.80,932.60" fill="#262626"/>
<text x="255.50" y="944.40" font-size="11.4" text-anchor="middle" fill="#1a1a1a" stroke="#1a1a1a" stroke-width="0.3">5.5</text>
<line x1="204.10" y1="946.80" x2="264.10" y2="946.80" stroke="#262626" stroke-width="0.85"/>
<polygon points="215.30,946.80 209.90,945.70 209.90,947.90" fill="#262626"/>
<polygon points="231.40,946.80 236.80,945.70 236.80,947.90" fill="#262626"/>
<path d="M197.0 1052.6 V1038.2 Q197.0 1037.0 198.20000000000002 1037.0 H202.0 Q203.20000000000002 1037.0 203.20000000000002 1038.2 V1047.6" fill="#f2f2f3" stroke="#262626" stroke-width="0.9"/>
<line x1="198.80" y1="1038.10" x2="198.80" y2="1051.60" stroke="#666" stroke-width="0.5"/>
<path d="M273.4 1052.6 V1038.2 Q273.4 1037.0 272.2 1037.0 H268.4 Q267.2 1037.0 267.2 1038.2 V1047.6" fill="#f2f2f3" stroke="#262626" stroke-width="0.9"/>
<line x1="271.60" y1="1038.10" x2="271.60" y2="1051.60" stroke="#666" stroke-width="0.5"/>
<path d="M197.0 1081.4 V1056.6 L197.6 1054.6 Q201.0 1048.2 205.8 1043.4 Q207.8 1041.5 215.8 1039.5 H254.6 Q262.59999999999997 1041.5 264.59999999999997 1043.4 Q269.4 1048.2 272.8 1054.6 L273.4 1056.6 V1081.4 Z" fill="#e7e7e9"/>
<path d="M197.0 1056.6 L197.6 1054.6 Q201.0 1048.2 205.8 1043.4 Q207.8 1041.5 215.8 1039.5 H254.6 Q262.59999999999997 1041.5 264.59999999999997 1043.4 Q269.4 1048.2 272.8 1054.6 L273.4 1056.6" fill="none" stroke="#1c1c1c" stroke-width="1.3" stroke-linejoin="round"/>
<line x1="197.00" y1="1051.60" x2="197.00" y2="1081.60" stroke="#1c1c1c" stroke-width="1.0"/>
<line x1="273.40" y1="1051.60" x2="273.40" y2="1081.60" stroke="#1c1c1c" stroke-width="1.0"/>
<line x1="197.00" y1="1081.70" x2="273.40" y2="1081.70" stroke="#1c1c1c" stroke-width="1.2"/>
<circle cx="200.80" cy="1077.60" r="1.9" fill="#808082" stroke="#222" stroke-width="0.9"/>
<circle cx="269.00" cy="1077.60" r="1.9" fill="#808082" stroke="#222" stroke-width="0.9"/>
<circle cx="199.60" cy="1058.80" r="1.9" fill="#808082" stroke="#222" stroke-width="0.9"/>
<circle cx="199.60" cy="1065.20" r="1.9" fill="#808082" stroke="#222" stroke-width="0.9"/>
<path d="M273.59999999999997 1044.2 H277.0 V1051.2 H278.8 V1056.6 H282.2 V1078.8 H273.59999999999997" fill="#f1f1f2" stroke="#333" stroke-width="0.8"/>
<line x1="273.60" y1="1051.20" x2="278.80" y2="1051.20" stroke="#262626" stroke-width="0.6"/>
<line x1="273.60" y1="1056.60" x2="282.20" y2="1056.60" stroke="#262626" stroke-width="0.6"/>
<line x1="276.80" y1="1056.60" x2="276.80" y2="1078.60" stroke="#666" stroke-width="0.5"/>
<rect x="270.60" y="1063.20" width="5.60" height="3.80" fill="#999" stroke="#222" stroke-width="0.7" rx="1.2"/>
<line x1="269.40" y1="1060.60" x2="277.40" y2="1060.60" stroke="#262626" stroke-width="0.6"/>
<line x1="269.40" y1="1070.10" x2="277.40" y2="1070.10" stroke="#262626" stroke-width="0.6"/>
<path d="M221 1042.8 H249.4 Q253.9 1042.8 253.9 1047.3 V1075.9 Q253.9 1080.4 249.4 1080.4 H221 Q216.5 1080.4 216.5 1075.9 V1047.3 Q216.5 1042.8 221 1042.8 Z" fill="#e9e9eb" stroke="#1c1c1c" stroke-width="1.2" stroke-linejoin="round"/>
<path d="M222.1 1043.6 Q222.1 1048.3999999999999 217.3 1048.3999999999999" fill="none" stroke="#6a6a6c" stroke-width="1.3"/>
<circle cx="219.90" cy="1046.20" r="1.5" fill="#bbb" stroke="#777" stroke-width="0.6"/>
<path d="M248.3 1043.6 Q248.3 1048.3999999999999 253.1 1048.3999999999999" fill="none" stroke="#6a6a6c" stroke-width="1.3"/>
<circle cx="250.50" cy="1046.20" r="1.5" fill="#bbb" stroke="#777" stroke-width="0.6"/>
<path d="M222.1 1079.6000000000001 Q222.1 1074.8000000000002 217.3 1074.8000000000002" fill="none" stroke="#6a6a6c" stroke-width="1.3"/>
<circle cx="219.90" cy="1077.00" r="1.5" fill="#bbb" stroke="#777" stroke-width="0.6"/>
<path d="M248.3 1079.6000000000001 Q248.3 1074.8000000000002 253.1 1074.8000000000002" fill="none" stroke="#6a6a6c" stroke-width="1.3"/>
<circle cx="250.50" cy="1077.00" r="1.5" fill="#bbb" stroke="#777" stroke-width="0.6"/>
<line x1="235.20" y1="1038.50" x2="235.20" y2="1083.00" stroke="#2a2a2a" stroke-width="0.7" stroke-dasharray="9 2.5"/>
<rect x="253.90" y="1054.80" width="6.20" height="13.60" fill="#f6f6f6" stroke="#333" stroke-width="0.8"/>
<path d="M260.1 1059.4 H272 M260.1 1063.8 H272" fill="none" stroke="#333" stroke-width="0.8"/>
<circle cx="272.00" cy="1064.40" r="8.1" fill="none" stroke="#1ea3df" stroke-width="1.3"/>
<text x="281.40" y="1052.60" font-size="11.5" text-anchor="start" fill="#1ea3df" stroke="#1ea3df" stroke-width="0.3" font-weight="bold">B</text>
<line x1="168.80" y1="1037.20" x2="196.00" y2="1037.20" stroke="#262626" stroke-width="0.85"/>
<line x1="168.80" y1="1081.70" x2="196.00" y2="1081.70" stroke="#262626" stroke-width="0.85"/>
<line x1="171.20" y1="1037.20" x2="171.20" y2="1081.70" stroke="#262626" stroke-width="0.85"/>
<polygon points="171.20,1037.20 169.95,1043.20 172.45,1043.20" fill="#262626"/>
<polygon points="171.20,1081.70 169.95,1075.70 172.45,1075.70" fill="#262626"/>
<text x="167.40" y="1058.80" font-size="11.4" text-anchor="middle" fill="#1a1a1a" stroke="#1a1a1a" stroke-width="0.3" transform="rotate(-90 167.40 1058.80)">78</text>
<line x1="188.50" y1="1054.00" x2="188.50" y2="1093.40" stroke="#262626" stroke-width="0.85"/>
<line x1="186.20" y1="1065.20" x2="197.00" y2="1065.20" stroke="#262626" stroke-width="0.85"/>
<polygon points="188.50,1065.20 187.50,1060.60 189.50,1060.60" fill="#262626"/>
<polygon points="188.50,1081.70 187.50,1086.30 189.50,1086.30" fill="#262626"/>
<text x="187.40" y="1073.70" font-size="11.4" text-anchor="middle" fill="#1a1a1a" stroke="#1a1a1a" stroke-width="0.3" transform="rotate(-90 187.40 1073.70)">29</text>
<line x1="204.30" y1="1082.50" x2="204.30" y2="1105.50" stroke="#262626" stroke-width="0.85" stroke-dasharray="7 2"/>
<line x1="265.10" y1="1082.50" x2="265.10" y2="1105.50" stroke="#262626" stroke-width="0.85" stroke-dasharray="7 2"/>
<line x1="204.30" y1="1102.50" x2="265.10" y2="1102.50" stroke="#262626" stroke-width="0.85"/>
<polygon points="204.30,1102.50 210.30,1101.25 210.30,1103.75" fill="#262626"/>
<polygon points="265.10,1102.50 259.10,1101.25 259.10,1103.75" fill="#262626"/>
<text x="235.70" y="1099.80" font-size="11.4" text-anchor="middle" fill="#1a1a1a" stroke="#1a1a1a" stroke-width="0.3">106</text>
<line x1="196.80" y1="1082.50" x2="196.80" y2="1119.50" stroke="#262626" stroke-width="0.85"/>
<line x1="273.60" y1="1082.50" x2="273.60" y2="1119.50" stroke="#262626" stroke-width="0.85"/>
<line x1="196.80" y1="1116.90" x2="273.60" y2="1116.90" stroke="#262626" stroke-width="0.85"/>
<polygon points="196.80,1116.90 202.80,1115.65 202.80,1118.15" fill="#262626"/>
<polygon points="273.60,1116.90 267.60,1115.65 267.60,1118.15" fill="#262626"/>
<text x="235.70" y="1114.20" font-size="11.4" text-anchor="middle" fill="#1a1a1a" stroke="#1a1a1a" stroke-width="0.3">135</text>
<path d="M804.8000000000001 1052.4 V1038.0 Q804.8000000000001 1036.8 806.0 1036.8 H809.8000000000001 Q811.0 1036.8 811.0 1038.0 V1047.4" fill="#f2f2f3" stroke="#262626" stroke-width="0.9"/>
<line x1="806.60" y1="1037.90" x2="806.60" y2="1051.40" stroke="#666" stroke-width="0.5"/>
<path d="M881.2 1052.4 V1038.0 Q881.2 1036.8 880.0 1036.8 H876.2 Q875.0 1036.8 875.0 1038.0 V1047.4" fill="#f2f2f3" stroke="#262626" stroke-width="0.9"/>
<line x1="879.40" y1="1037.90" x2="879.40" y2="1051.40" stroke="#666" stroke-width="0.5"/>
<path d="M804.8000000000001 1081.2 V1056.4 L805.4000000000001 1054.4 Q808.8000000000001 1048.0 813.6 1043.2 Q815.6 1041.3 823.6 1039.3 H862.4000000000001 Q870.4000000000001 1041.3 872.4000000000001 1043.2 Q877.2 1048.0 880.6 1054.4 L881.2 1056.4 V1081.2 Z" fill="#e7e7e9"/>
<rect x="804.80" y="1069.00" width="76.40" height="12.40" fill="#f3f3f4"/>
<path d="M804.8000000000001 1056.4 L805.4000000000001 1054.4 Q808.8000000000001 1048.0 813.6 1043.2 Q815.6 1041.3 823.6 1039.3 H862.4000000000001 Q870.4000000000001 1041.3 872.4000000000001 1043.2 Q877.2 1048.0 880.6 1054.4 L881.2 1056.4" fill="none" stroke="#1c1c1c" stroke-width="1.3" stroke-linejoin="round"/>
<line x1="804.80" y1="1051.40" x2="804.80" y2="1081.40" stroke="#1c1c1c" stroke-width="1.0"/>
<line x1="881.20" y1="1051.40" x2="881.20" y2="1081.40" stroke="#1c1c1c" stroke-width="1.0"/>
<line x1="804.80" y1="1068.70" x2="881.20" y2="1068.70" stroke="#2a2a2a" stroke-width="1.1"/>
<line x1="810.70" y1="1071.00" x2="875.20" y2="1071.00" stroke="#555" stroke-width="0.6"/>
<line x1="810.70" y1="1075.00" x2="875.20" y2="1075.00" stroke="#444" stroke-width="0.7"/>
<line x1="810.80" y1="1069.00" x2="810.80" y2="1081.40" stroke="#555" stroke-width="0.6"/>
<line x1="875.20" y1="1069.00" x2="875.20" y2="1081.40" stroke="#555" stroke-width="0.6"/>
<line x1="804.80" y1="1081.50" x2="881.20" y2="1081.50" stroke="#1c1c1c" stroke-width="1.2"/>
<path d="M831.6 1081.4 V1078.4 Q831.6 1075.6 834.6 1075.6 H851.4000000000001 Q854.4000000000001 1075.6 854.4000000000001 1078.4 V1081.4" fill="#fafafa" stroke="#333" stroke-width="0.8"/>
<circle cx="808.60" cy="1077.40" r="1.9" fill="#808082" stroke="#222" stroke-width="0.9"/>
<circle cx="876.80" cy="1077.40" r="1.9" fill="#808082" stroke="#222" stroke-width="0.9"/>
<circle cx="807.40" cy="1059.20" r="1.9" fill="#808082" stroke="#222" stroke-width="0.9"/>
<circle cx="878.60" cy="1059.20" r="1.9" fill="#808082" stroke="#222" stroke-width="0.9"/>
<line x1="842.80" y1="1037.40" x2="842.80" y2="1078.40" stroke="#2a2a2a" stroke-width="0.7" stroke-dasharray="9 2.5"/>
<path d="M804.8 1044.0 H801.4 V1051.0 H799.6 V1056.4 H796.2 V1078.6 H804.8" fill="#f1f1f2" stroke="#333" stroke-width="0.8"/>
<line x1="804.80" y1="1051.00" x2="799.60" y2="1051.00" stroke="#262626" stroke-width="0.6"/>
<line x1="804.80" y1="1056.40" x2="796.20" y2="1056.40" stroke="#262626" stroke-width="0.6"/>
<line x1="801.60" y1="1056.40" x2="801.60" y2="1078.40" stroke="#666" stroke-width="0.5"/>
<rect x="802.20" y="1063.00" width="5.60" height="3.80" fill="#999" stroke="#222" stroke-width="0.7" rx="1.2"/>
<line x1="812.80" y1="1082.40" x2="812.80" y2="1086.50" stroke="#262626" stroke-width="0.6"/>
<line x1="873.40" y1="1082.40" x2="873.40" y2="1086.50" stroke="#262626" stroke-width="0.6"/>
</svg>
</body></html>
